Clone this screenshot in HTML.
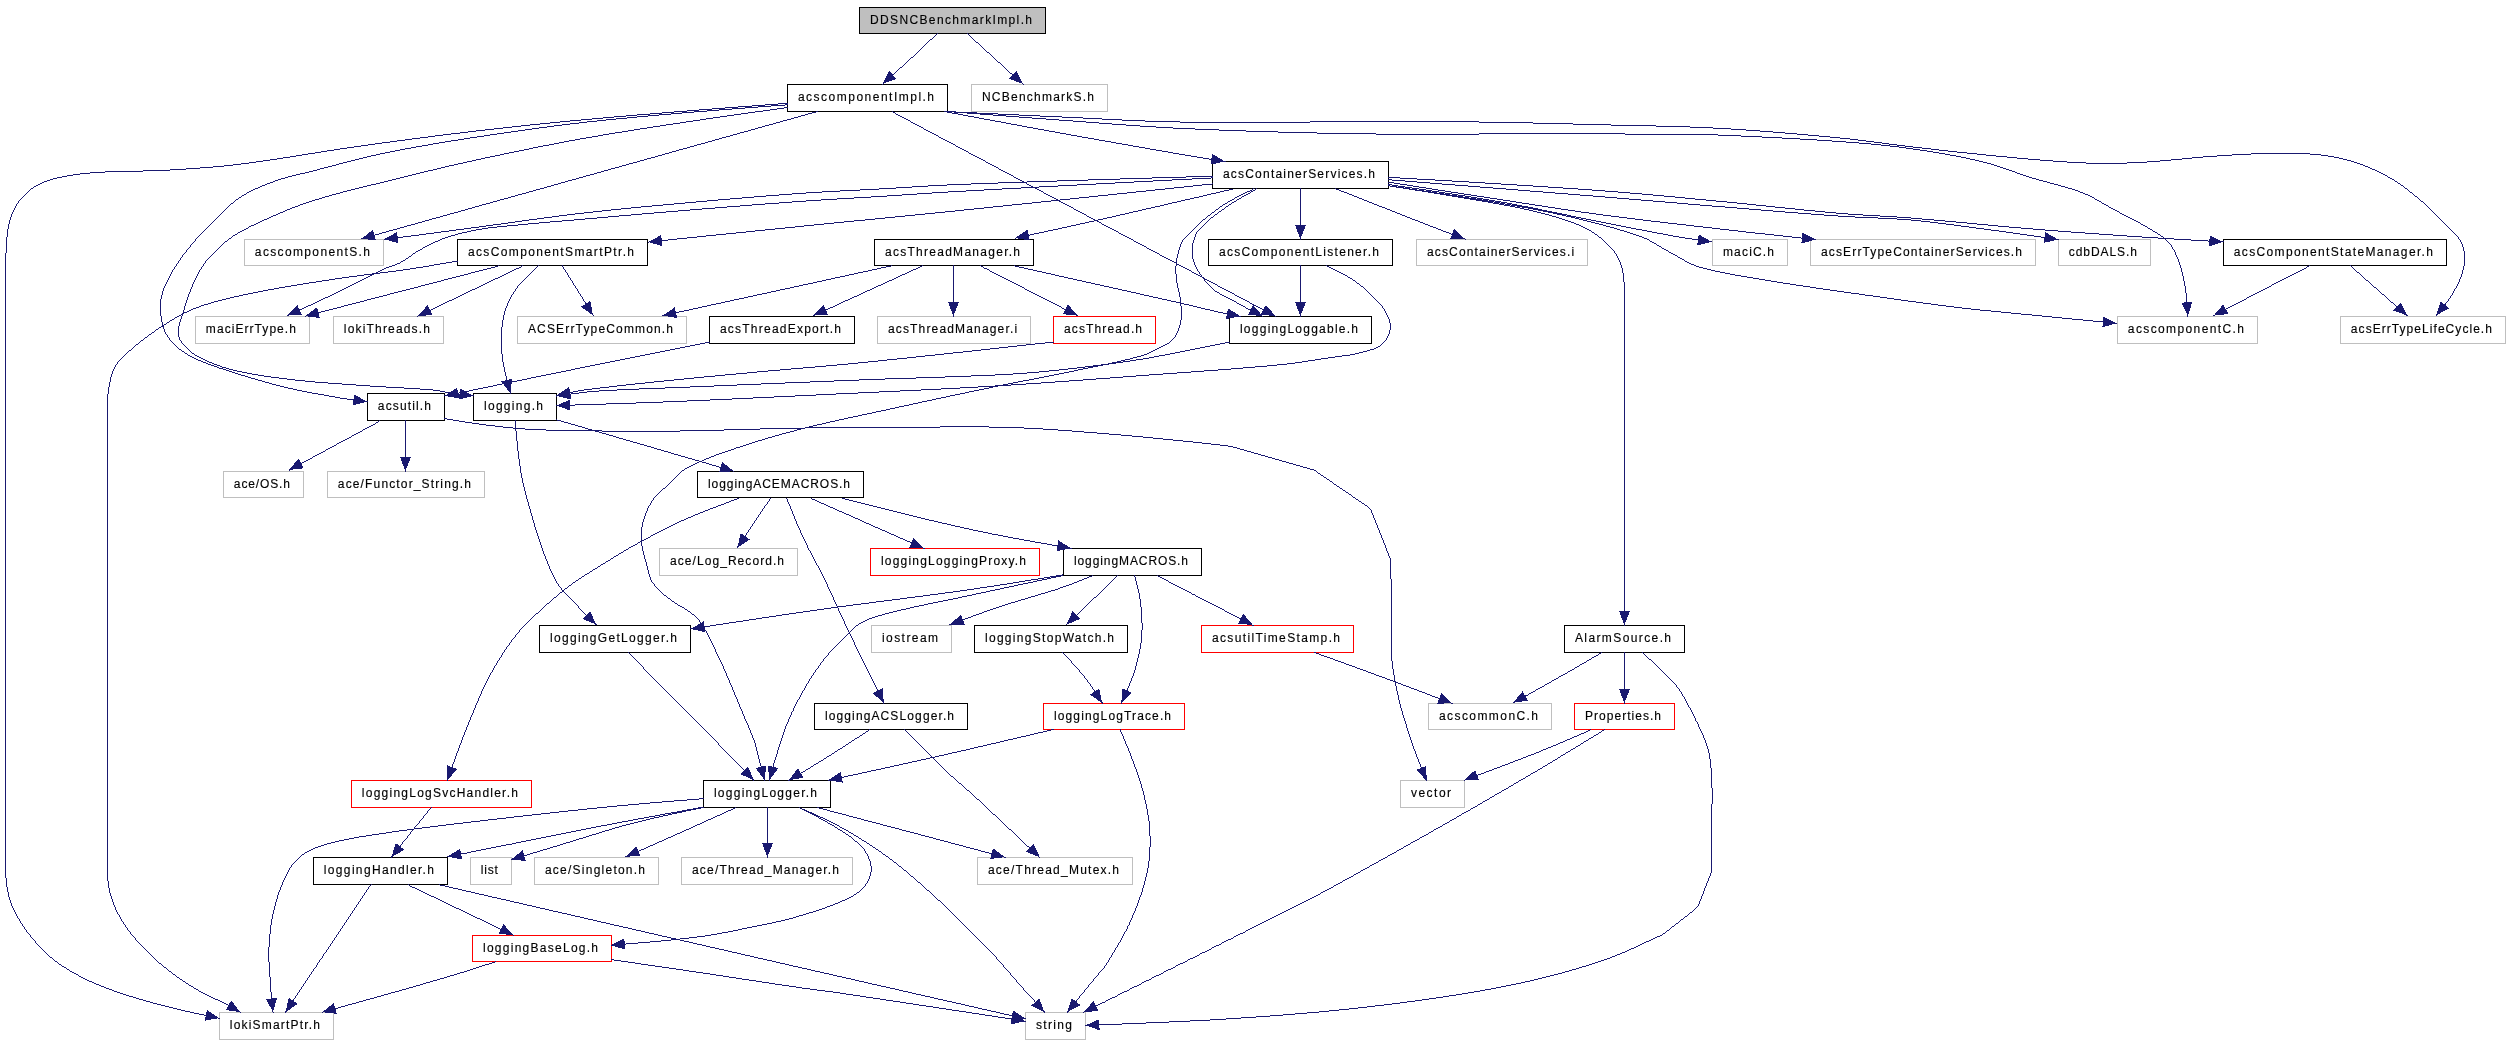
<!DOCTYPE html>
<html><head><meta charset="utf-8"><title>DDSNCBenchmarkImpl.h include graph</title>
<style>html,body{margin:0;padding:0;background:#fff;overflow:hidden}svg{display:block}text{font-family:"Liberation Sans",sans-serif;font-size:12px;fill:#000;stroke:#000;stroke-width:0.15px;text-anchor:middle}</style></head><body>
<svg width="2511" height="1045" viewBox="0 0 2511 1045">
<rect width="2511" height="1045" fill="#fff"/>
<g shape-rendering="crispEdges">
<rect x="859.5" y="7.5" width="186" height="26" fill="#bfbfbf" stroke="#000000"/>
<rect x="787.5" y="84.5" width="160" height="27" fill="#fff" stroke="#000000"/>
<rect x="971.5" y="84.5" width="136" height="27" fill="#fff" stroke="#bfbfbf"/>
<rect x="1212.5" y="161.5" width="176" height="27" fill="#fff" stroke="#000000"/>
<rect x="244.5" y="239.5" width="139" height="26" fill="#fff" stroke="#bfbfbf"/>
<rect x="457.5" y="239.5" width="190" height="26" fill="#fff" stroke="#000000"/>
<rect x="874.5" y="239.5" width="159" height="26" fill="#fff" stroke="#000000"/>
<rect x="1208.5" y="239.5" width="184" height="26" fill="#fff" stroke="#000000"/>
<rect x="1416.5" y="239.5" width="171" height="26" fill="#fff" stroke="#bfbfbf"/>
<rect x="1712.5" y="239.5" width="75" height="26" fill="#fff" stroke="#bfbfbf"/>
<rect x="1810.5" y="239.5" width="225" height="26" fill="#fff" stroke="#bfbfbf"/>
<rect x="2058.5" y="239.5" width="92" height="26" fill="#fff" stroke="#bfbfbf"/>
<rect x="2223.5" y="239.5" width="223" height="26" fill="#fff" stroke="#000000"/>
<rect x="195.5" y="316.5" width="114" height="27" fill="#fff" stroke="#bfbfbf"/>
<rect x="333.5" y="316.5" width="110" height="27" fill="#fff" stroke="#bfbfbf"/>
<rect x="517.5" y="316.5" width="169" height="27" fill="#fff" stroke="#bfbfbf"/>
<rect x="709.5" y="316.5" width="145" height="27" fill="#fff" stroke="#000000"/>
<rect x="877.5" y="316.5" width="153" height="27" fill="#fff" stroke="#bfbfbf"/>
<rect x="1053.5" y="316.5" width="102" height="27" fill="#fff" stroke="#ff0000"/>
<rect x="1229.5" y="316.5" width="142" height="27" fill="#fff" stroke="#000000"/>
<rect x="2117.5" y="316.5" width="140" height="27" fill="#fff" stroke="#bfbfbf"/>
<rect x="2340.5" y="316.5" width="165" height="27" fill="#fff" stroke="#bfbfbf"/>
<rect x="367.5" y="393.5" width="77" height="27" fill="#fff" stroke="#000000"/>
<rect x="473.5" y="393.5" width="83" height="27" fill="#fff" stroke="#000000"/>
<rect x="223.5" y="471.5" width="80" height="26" fill="#fff" stroke="#bfbfbf"/>
<rect x="327.5" y="471.5" width="157" height="26" fill="#fff" stroke="#bfbfbf"/>
<rect x="697.5" y="471.5" width="166" height="26" fill="#fff" stroke="#000000"/>
<rect x="659.5" y="548.5" width="138" height="27" fill="#fff" stroke="#bfbfbf"/>
<rect x="870.5" y="548.5" width="169" height="27" fill="#fff" stroke="#ff0000"/>
<rect x="1063.5" y="548.5" width="138" height="27" fill="#fff" stroke="#000000"/>
<rect x="539.5" y="625.5" width="151" height="27" fill="#fff" stroke="#000000"/>
<rect x="871.5" y="625.5" width="80" height="27" fill="#fff" stroke="#bfbfbf"/>
<rect x="974.5" y="625.5" width="153" height="27" fill="#fff" stroke="#000000"/>
<rect x="1201.5" y="625.5" width="152" height="27" fill="#fff" stroke="#ff0000"/>
<rect x="1564.5" y="625.5" width="120" height="27" fill="#fff" stroke="#000000"/>
<rect x="814.5" y="703.5" width="153" height="26" fill="#fff" stroke="#000000"/>
<rect x="1043.5" y="703.5" width="141" height="26" fill="#fff" stroke="#ff0000"/>
<rect x="1428.5" y="703.5" width="123" height="26" fill="#fff" stroke="#bfbfbf"/>
<rect x="1574.5" y="703.5" width="100" height="26" fill="#fff" stroke="#ff0000"/>
<rect x="351.5" y="780.5" width="180" height="27" fill="#fff" stroke="#ff0000"/>
<rect x="703.5" y="780.5" width="127" height="27" fill="#fff" stroke="#000000"/>
<rect x="1400.5" y="780.5" width="64" height="27" fill="#fff" stroke="#bfbfbf"/>
<rect x="313.5" y="857.5" width="134" height="27" fill="#fff" stroke="#000000"/>
<rect x="470.5" y="857.5" width="41" height="27" fill="#fff" stroke="#bfbfbf"/>
<rect x="534.5" y="857.5" width="124" height="27" fill="#fff" stroke="#bfbfbf"/>
<rect x="681.5" y="857.5" width="171" height="27" fill="#fff" stroke="#bfbfbf"/>
<rect x="977.5" y="857.5" width="155" height="27" fill="#fff" stroke="#bfbfbf"/>
<rect x="472.5" y="935.5" width="139" height="26" fill="#fff" stroke="#ff0000"/>
<rect x="219.5" y="1012.5" width="114" height="27" fill="#fff" stroke="#bfbfbf"/>
<rect x="1025.5" y="1012.5" width="60" height="27" fill="#fff" stroke="#bfbfbf"/>
</g>
<filter id="gs" x="0" y="0" width="100%" height="100%" filterUnits="userSpaceOnUse" color-interpolation-filters="sRGB"><feColorMatrix type="saturate" values="0"/></filter>
<g filter="url(#gs)">
<text x="951.0" y="23.5" textLength="162.1" lengthAdjust="spacing">DDSNCBenchmarkImpl.h</text>
<text x="866.0" y="101.0" textLength="136.1" lengthAdjust="spacing">acscomponentImpl.h</text>
<text x="1038.0" y="101.0" textLength="112.1" lengthAdjust="spacing">NCBenchmarkS.h</text>
<text x="1299.0" y="178.0" textLength="152.1" lengthAdjust="spacing">acsContainerServices.h</text>
<text x="312.4" y="255.5" textLength="115.1" lengthAdjust="spacing">acscomponentS.h</text>
<text x="551.0" y="255.5" textLength="166.1" lengthAdjust="spacing">acsComponentSmartPtr.h</text>
<text x="952.5" y="255.5" textLength="135.1" lengthAdjust="spacing">acsThreadManager.h</text>
<text x="1299.0" y="255.5" textLength="160.1" lengthAdjust="spacing">acsComponentListener.h</text>
<text x="1500.5" y="255.5" textLength="147.1" lengthAdjust="spacing">acsContainerServices.i</text>
<text x="1748.5" y="255.5" textLength="51.1" lengthAdjust="spacing">maciC.h</text>
<text x="1921.5" y="255.5" textLength="201.1" lengthAdjust="spacing">acsErrTypeContainerServices.h</text>
<text x="2102.9" y="255.5" textLength="68.1" lengthAdjust="spacing">cdbDALS.h</text>
<text x="2333.4" y="255.5" textLength="199.1" lengthAdjust="spacing">acsComponentStateManager.h</text>
<text x="250.9" y="333.0" textLength="90.1" lengthAdjust="spacing">maciErrType.h</text>
<text x="386.9" y="333.0" textLength="86.1" lengthAdjust="spacing">lokiThreads.h</text>
<text x="600.5" y="333.0" textLength="145.1" lengthAdjust="spacing">ACSErrTypeCommon.h</text>
<text x="780.5" y="333.0" textLength="121.1" lengthAdjust="spacing">acsThreadExport.h</text>
<text x="952.5" y="333.0" textLength="129.1" lengthAdjust="spacing">acsThreadManager.i</text>
<text x="1103.0" y="333.0" textLength="78.1" lengthAdjust="spacing">acsThread.h</text>
<text x="1299.0" y="333.0" textLength="118.1" lengthAdjust="spacing">loggingLoggable.h</text>
<text x="2185.9" y="333.0" textLength="116.1" lengthAdjust="spacing">acscomponentC.h</text>
<text x="2421.4" y="333.0" textLength="141.1" lengthAdjust="spacing">acsErrTypeLifeCycle.h</text>
<text x="404.4" y="410.0" textLength="53.1" lengthAdjust="spacing">acsutil.h</text>
<text x="513.5" y="410.0" textLength="59.1" lengthAdjust="spacing">logging.h</text>
<text x="261.9" y="487.5" textLength="56.1" lengthAdjust="spacing">ace/OS.h</text>
<text x="404.4" y="487.5" textLength="133.1" lengthAdjust="spacing">ace/Functor_String.h</text>
<text x="779.0" y="487.5" textLength="142.1" lengthAdjust="spacing">loggingACEMACROS.h</text>
<text x="727.0" y="565.0" textLength="114.1" lengthAdjust="spacing">ace/Log_Record.h</text>
<text x="953.5" y="565.0" textLength="145.1" lengthAdjust="spacing">loggingLoggingProxy.h</text>
<text x="1131.0" y="565.0" textLength="114.1" lengthAdjust="spacing">loggingMACROS.h</text>
<text x="613.5" y="642.0" textLength="127.1" lengthAdjust="spacing">loggingGetLogger.h</text>
<text x="910.0" y="642.0" textLength="56.1" lengthAdjust="spacing">iostream</text>
<text x="1049.5" y="642.0" textLength="129.1" lengthAdjust="spacing">loggingStopWatch.h</text>
<text x="1276.0" y="642.0" textLength="128.1" lengthAdjust="spacing">acsutilTimeStamp.h</text>
<text x="1623.0" y="642.0" textLength="96.1" lengthAdjust="spacing">AlarmSource.h</text>
<text x="889.5" y="719.5" textLength="129.1" lengthAdjust="spacing">loggingACSLogger.h</text>
<text x="1112.5" y="719.5" textLength="117.1" lengthAdjust="spacing">loggingLogTrace.h</text>
<text x="1488.5" y="719.5" textLength="99.1" lengthAdjust="spacing">acscommonC.h</text>
<text x="1623.0" y="719.5" textLength="76.1" lengthAdjust="spacing">Properties.h</text>
<text x="439.9" y="797.0" textLength="156.1" lengthAdjust="spacing">loggingLogSvcHandler.h</text>
<text x="765.5" y="797.0" textLength="103.1" lengthAdjust="spacing">loggingLogger.h</text>
<text x="1431.0" y="797.0" textLength="40.1" lengthAdjust="spacing">vector</text>
<text x="378.9" y="874.0" textLength="110.1" lengthAdjust="spacing">loggingHandler.h</text>
<text x="489.4" y="874.0" textLength="17.1" lengthAdjust="spacing">list</text>
<text x="595.0" y="874.0" textLength="100.1" lengthAdjust="spacing">ace/Singleton.h</text>
<text x="765.5" y="874.0" textLength="147.1" lengthAdjust="spacing">ace/Thread_Manager.h</text>
<text x="1053.5" y="874.0" textLength="131.1" lengthAdjust="spacing">ace/Thread_Mutex.h</text>
<text x="540.5" y="951.5" textLength="115.1" lengthAdjust="spacing">loggingBaseLog.h</text>
<text x="274.9" y="1029.0" textLength="90.1" lengthAdjust="spacing">lokiSmartPtr.h</text>
<text x="1054.0" y="1029.0" textLength="36.1" lengthAdjust="spacing">string</text>
</g>
<g fill="none" stroke="#191970" stroke-width="1" shape-rendering="crispEdges">
<path d="M930 39.5h2M976 42.5h2M987 52.5h2M911 57.5h2M998 62.5h2M900 67.5h2M1010 73.5h2M892 74.5h2M1020 82.5h2M778 103.5h10M765 104.5h13M785 104.5h3M752 105.5h13M771 105.5h14M738 106.5h14M758 106.5h13M725 107.5h13M745 107.5h13M784 107.5h4M712 108.5h13M732 108.5h13M777 108.5h7M699 109.5h13M719 109.5h13M770 109.5h7M687 110.5h12M707 110.5h12M763 110.5h7M674 111.5h13M694 111.5h13M755 111.5h8M816 111.5h2M944 111.5h12M662 112.5h12M682 112.5h12M748 112.5h7M812 112.5h4M893 112.5h2M947 112.5h5M954 112.5h23M650 113.5h12M671 113.5h11M741 113.5h7M808 113.5h4M952 113.5h6M967 113.5h31M637 114.5h13M659 114.5h12M734 114.5h7M805 114.5h3M896 114.5h2M958 114.5h5M980 114.5h13M998 114.5h21M626 115.5h11M648 115.5h11M727 115.5h7M801 115.5h4M898 115.5h2M963 115.5h5M993 115.5h13M1019 115.5h21M614 116.5h12M637 116.5h11M720 116.5h7M798 116.5h3M900 116.5h2M968 116.5h6M1006 116.5h13M1040 116.5h22M603 117.5h11M627 117.5h10M713 117.5h7M794 117.5h4M902 117.5h2M974 117.5h5M1019 117.5h13M1062 117.5h21M592 118.5h11M616 118.5h11M706 118.5h7M791 118.5h3M904 118.5h2M979 118.5h5M1032 118.5h14M1083 118.5h19M581 119.5h11M606 119.5h10M700 119.5h6M787 119.5h4M906 119.5h2M984 119.5h6M1046 119.5h13M1102 119.5h20M570 120.5h11M597 120.5h9M693 120.5h7M783 120.5h4M908 120.5h2M990 120.5h5M1059 120.5h14M1122 120.5h23M560 121.5h10M587 121.5h10M686 121.5h7M780 121.5h3M995 121.5h6M1073 121.5h13M1145 121.5h35M1310 121.5h169M550 122.5h10M579 122.5h8M680 122.5h6M776 122.5h4M911 122.5h2M1001 122.5h5M1086 122.5h13M1180 122.5h130M1479 122.5h54M540 123.5h10M570 123.5h9M673 123.5h7M773 123.5h3M913 123.5h2M1006 123.5h5M1099 123.5h13M1533 123.5h40M530 124.5h10M562 124.5h8M666 124.5h7M769 124.5h4M915 124.5h2M1011 124.5h6M1112 124.5h14M1573 124.5h38M521 125.5h9M554 125.5h8M660 125.5h6M765 125.5h4M917 125.5h2M1017 125.5h5M1126 125.5h14M1611 125.5h45M512 126.5h9M547 126.5h7M653 126.5h7M762 126.5h3M919 126.5h2M1022 126.5h5M1140 126.5h16M1656 126.5h34M503 127.5h9M539 127.5h8M647 127.5h6M758 127.5h4M921 127.5h2M1027 127.5h6M1156 127.5h17M1690 127.5h23M494 128.5h9M532 128.5h7M640 128.5h7M755 128.5h3M1033 128.5h5M1173 128.5h22M1713 128.5h18M485 129.5h9M525 129.5h7M634 129.5h6M751 129.5h4M924 129.5h2M1038 129.5h6M1195 129.5h24M1731 129.5h15M476 130.5h9M518 130.5h7M628 130.5h6M748 130.5h3M926 130.5h2M1044 130.5h5M1219 130.5h27M1746 130.5h14M468 131.5h8M511 131.5h7M622 131.5h6M744 131.5h4M928 131.5h2M1049 131.5h6M1246 131.5h32M1760 131.5h13M460 132.5h8M504 132.5h7M615 132.5h7M740 132.5h4M930 132.5h2M1055 132.5h5M1278 132.5h39M1773 132.5h12M451 133.5h9M497 133.5h7M609 133.5h6M737 133.5h3M932 133.5h2M1060 133.5h6M1317 133.5h59M1479 133.5h146M1785 133.5h12M443 134.5h8M490 134.5h7M603 134.5h6M733 134.5h4M934 134.5h2M1066 134.5h5M1376 134.5h103M1625 134.5h93M1797 134.5h11M435 135.5h8M484 135.5h6M598 135.5h5M730 135.5h3M936 135.5h2M1071 135.5h6M1718 135.5h23M1808 135.5h11M428 136.5h7M477 136.5h7M592 136.5h6M726 136.5h4M1077 136.5h5M1741 136.5h21M1819 136.5h11M420 137.5h8M470 137.5h7M586 137.5h6M722 137.5h4M939 137.5h2M1082 137.5h6M1762 137.5h20M1830 137.5h10M412 138.5h8M464 138.5h6M580 138.5h6M719 138.5h3M941 138.5h2M1088 138.5h6M1782 138.5h18M1840 138.5h10M405 139.5h7M458 139.5h6M575 139.5h5M715 139.5h4M943 139.5h2M1094 139.5h5M1800 139.5h17M1850 139.5h8M397 140.5h8M451 140.5h7M569 140.5h6M712 140.5h3M945 140.5h2M1099 140.5h6M1817 140.5h15M1858 140.5h8M390 141.5h7M445 141.5h6M564 141.5h5M708 141.5h4M947 141.5h2M1105 141.5h6M1832 141.5h14M1866 141.5h8M382 142.5h8M439 142.5h6M559 142.5h5M705 142.5h3M949 142.5h2M1111 142.5h5M1846 142.5h13M1874 142.5h8M375 143.5h7M433 143.5h6M554 143.5h5M701 143.5h4M951 143.5h2M1116 143.5h6M1859 143.5h12M1882 143.5h7M368 144.5h7M428 144.5h5M549 144.5h5M697 144.5h4M953 144.5h2M1122 144.5h6M1871 144.5h10M1889 144.5h8M361 145.5h7M422 145.5h6M543 145.5h6M694 145.5h3M1128 145.5h5M1881 145.5h9M1897 145.5h8M354 146.5h7M416 146.5h6M538 146.5h5M690 146.5h4M956 146.5h2M1133 146.5h6M1890 146.5h9M1905 146.5h8M347 147.5h7M411 147.5h5M533 147.5h5M687 147.5h3M958 147.5h2M1139 147.5h6M1899 147.5h7M1913 147.5h9M340 148.5h7M405 148.5h6M529 148.5h4M683 148.5h4M960 148.5h2M1145 148.5h5M1906 148.5h7M1922 148.5h9M334 149.5h6M400 149.5h5M524 149.5h5M679 149.5h4M962 149.5h2M1150 149.5h6M1913 149.5h7M1931 149.5h8M327 150.5h7M395 150.5h5M519 150.5h5M676 150.5h3M964 150.5h2M1156 150.5h6M1920 150.5h7M1939 150.5h9M321 151.5h6M390 151.5h5M514 151.5h5M672 151.5h4M966 151.5h2M1162 151.5h6M1927 151.5h6M1948 151.5h9M315 152.5h6M385 152.5h5M509 152.5h5M669 152.5h3M1168 152.5h5M1933 152.5h6M1957 152.5h10M308 153.5h7M380 153.5h5M504 153.5h5M665 153.5h4M969 153.5h2M1173 153.5h6M1939 153.5h6M1967 153.5h10M2251 153.5h59M302 154.5h6M376 154.5h4M500 154.5h4M662 154.5h3M971 154.5h2M1179 154.5h6M1945 154.5h5M1977 154.5h9M2232 154.5h19M2310 154.5h11M296 155.5h6M371 155.5h5M495 155.5h5M658 155.5h4M973 155.5h2M1185 155.5h6M1950 155.5h6M1986 155.5h10M2217 155.5h15M2321 155.5h7M290 156.5h6M367 156.5h4M490 156.5h5M655 156.5h3M975 156.5h2M1191 156.5h6M1956 156.5h5M1996 156.5h11M2203 156.5h14M2328 156.5h6M283 157.5h7M363 157.5h4M485 157.5h5M651 157.5h4M977 157.5h2M1197 157.5h6M1961 157.5h5M2007 157.5h10M2192 157.5h11M2334 157.5h5M277 158.5h6M359 158.5h4M481 158.5h4M647 158.5h4M979 158.5h2M1203 158.5h6M1966 158.5h4M2017 158.5h11M2182 158.5h10M2339 158.5h4M270 159.5h7M355 159.5h4M476 159.5h5M644 159.5h3M981 159.5h2M1209 159.5h7M1970 159.5h5M2028 159.5h12M2171 159.5h11M2343 159.5h4M263 160.5h7M351 160.5h4M472 160.5h4M640 160.5h4M983 160.5h2M1216 160.5h6M1975 160.5h4M2040 160.5h13M2160 160.5h11M2347 160.5h4M256 161.5h7M347 161.5h4M467 161.5h5M637 161.5h3M1222 161.5h4M1979 161.5h4M2053 161.5h14M2147 161.5h13M2351 161.5h3M249 162.5h7M343 162.5h4M463 162.5h4M633 162.5h4M986 162.5h2M1983 162.5h4M2067 162.5h19M2127 162.5h20M2354 162.5h3M241 163.5h8M339 163.5h4M458 163.5h5M629 163.5h4M988 163.5h2M1987 163.5h4M2086 163.5h41M2357 163.5h3M233 164.5h8M336 164.5h3M454 164.5h4M626 164.5h3M990 164.5h2M1991 164.5h3M2360 164.5h3M224 165.5h9M332 165.5h4M449 165.5h5M622 165.5h4M992 165.5h2M1994 165.5h3M2363 165.5h2M213 166.5h11M328 166.5h4M445 166.5h4M619 166.5h3M994 166.5h2M1997 166.5h3M2365 166.5h3M200 167.5h13M324 167.5h4M441 167.5h4M615 167.5h4M996 167.5h2M2000 167.5h3M2368 167.5h2M186 168.5h14M320 168.5h4M437 168.5h4M611 168.5h4M2003 168.5h3M2370 168.5h2M170 169.5h16M317 169.5h3M433 169.5h4M608 169.5h3M999 169.5h2M2006 169.5h3M2372 169.5h3M143 170.5h27M313 170.5h4M428 170.5h5M604 170.5h4M1001 170.5h2M2009 170.5h3M2375 170.5h2M105 171.5h38M309 171.5h4M424 171.5h4M601 171.5h3M1003 171.5h2M2012 171.5h3M2377 171.5h2M90 172.5h15M305 172.5h4M420 172.5h4M597 172.5h4M1005 172.5h2M2015 172.5h2M2379 172.5h2M80 173.5h10M300 173.5h5M416 173.5h4M594 173.5h3M1007 173.5h2M2017 173.5h3M2381 173.5h2M73 174.5h7M296 174.5h4M412 174.5h4M590 174.5h4M1009 174.5h2M2020 174.5h3M2383 174.5h2M67 175.5h6M292 175.5h4M408 175.5h4M586 175.5h4M1011 175.5h2M2023 175.5h3M2385 175.5h2M62 176.5h5M288 176.5h4M404 176.5h4M583 176.5h3M1186 176.5h27M2026 176.5h3M57 177.5h5M285 177.5h3M400 177.5h4M579 177.5h4M1014 177.5h2M1152 177.5h34M1211 177.5h2M1388 177.5h12M2029 177.5h3M2388 177.5h2M53 178.5h4M281 178.5h4M396 178.5h4M576 178.5h3M1016 178.5h2M1120 178.5h32M1192 178.5h19M1400 178.5h17M2032 178.5h4M2390 178.5h2M50 179.5h3M278 179.5h3M392 179.5h4M572 179.5h4M1018 179.5h2M1088 179.5h32M1172 179.5h20M1388 179.5h4M1417 179.5h18M2036 179.5h3M2392 179.5h2M47 180.5h3M275 180.5h3M388 180.5h4M568 180.5h4M1020 180.5h2M1057 180.5h31M1153 180.5h19M1392 180.5h13M1435 180.5h17M2039 180.5h4M44 181.5h3M273 181.5h2M384 181.5h4M565 181.5h3M1022 181.5h2M1027 181.5h30M1134 181.5h19M1405 181.5h12M1452 181.5h17M2043 181.5h4M2395 181.5h2M42 182.5h2M270 182.5h3M380 182.5h4M561 182.5h4M998 182.5h29M1115 182.5h19M1388 182.5h6M1417 182.5h13M1469 182.5h16M2047 182.5h3M40 183.5h2M267 183.5h3M376 183.5h4M558 183.5h3M971 183.5h27M1096 183.5h19M1394 183.5h6M1430 183.5h12M1485 183.5h16M2050 183.5h4M2398 183.5h2M38 184.5h2M265 184.5h2M371 184.5h5M554 184.5h4M947 184.5h24M1027 184.5h2M1077 184.5h19M1202 184.5h10M1388 184.5h4M1400 184.5h7M1442 184.5h13M1501 184.5h16M2054 184.5h4M36 185.5h2M262 185.5h3M367 185.5h4M551 185.5h3M928 185.5h19M1029 185.5h2M1058 185.5h19M1193 185.5h9M1388 185.5h2M1392 185.5h6M1407 185.5h6M1455 185.5h13M1517 185.5h16M2058 185.5h3M2401 185.5h2M34 186.5h2M260 186.5h2M363 186.5h4M547 186.5h4M912 186.5h16M1031 186.5h2M1039 186.5h19M1184 186.5h9M1390 186.5h7M1398 186.5h7M1413 186.5h6M1468 186.5h12M1533 186.5h15M2061 186.5h4M258 187.5h2M359 187.5h4M544 187.5h3M896 187.5h16M1021 187.5h18M1174 187.5h10M1396 187.5h8M1405 187.5h7M1419 187.5h7M1480 187.5h13M1548 187.5h15M2065 187.5h3M31 188.5h2M255 188.5h3M355 188.5h4M540 188.5h4M879 188.5h17M1002 188.5h19M1035 188.5h2M1165 188.5h9M1403 188.5h7M1412 188.5h7M1426 188.5h6M1493 188.5h13M1563 188.5h15M2068 188.5h4M2405 188.5h2M253 189.5h2M351 189.5h4M536 189.5h4M860 189.5h19M984 189.5h18M1037 189.5h2M1155 189.5h10M1229 189.5h4M1336 189.5h3M1409 189.5h8M1419 189.5h7M1432 189.5h6M1506 189.5h12M1578 189.5h14M2072 189.5h3M251 190.5h2M347 190.5h4M533 190.5h3M840 190.5h20M966 190.5h18M1039 190.5h2M1146 190.5h9M1224 190.5h5M1250 190.5h2M1253 190.5h2M1339 190.5h2M1415 190.5h9M1426 190.5h6M1438 190.5h7M1518 190.5h12M1592 190.5h13M2075 190.5h3M249 191.5h2M343 191.5h4M529 191.5h4M822 191.5h18M948 191.5h18M1041 191.5h2M1136 191.5h10M1220 191.5h4M1247 191.5h3M1251 191.5h2M1341 191.5h3M1422 191.5h9M1432 191.5h7M1445 191.5h6M1530 191.5h13M1605 191.5h13M2078 191.5h2M247 192.5h2M340 192.5h3M526 192.5h3M806 192.5h16M932 192.5h16M1127 192.5h9M1216 192.5h4M1245 192.5h2M1344 192.5h3M1428 192.5h9M1439 192.5h6M1451 192.5h7M1543 192.5h12M1618 192.5h12M2080 192.5h3M2410 192.5h2M336 193.5h4M522 193.5h4M792 193.5h14M917 193.5h15M1044 193.5h2M1117 193.5h10M1211 193.5h5M1243 193.5h2M1248 193.5h2M1347 193.5h2M1434 193.5h10M1445 193.5h7M1458 193.5h6M1555 193.5h13M1630 193.5h12M2083 193.5h2M244 194.5h2M332 194.5h4M518 194.5h4M779 194.5h13M902 194.5h15M1046 194.5h2M1108 194.5h9M1207 194.5h4M1241 194.5h2M1246 194.5h2M1349 194.5h3M1440 194.5h10M1452 194.5h6M1464 194.5h7M1568 194.5h12M1642 194.5h11M2085 194.5h3M242 195.5h2M329 195.5h3M515 195.5h3M766 195.5h13M887 195.5h15M1048 195.5h2M1098 195.5h10M1203 195.5h4M1239 195.5h2M1244 195.5h2M1352 195.5h2M1446 195.5h11M1458 195.5h7M1471 195.5h6M1580 195.5h13M1653 195.5h11M2088 195.5h2M325 196.5h4M511 196.5h4M754 196.5h12M871 196.5h16M1050 196.5h2M1089 196.5h9M1199 196.5h4M1237 196.5h2M1242 196.5h2M1354 196.5h3M1452 196.5h11M1465 196.5h6M1477 196.5h7M1593 196.5h12M1664 196.5h11M2090 196.5h2M2415 196.5h2M239 197.5h2M322 197.5h3M508 197.5h3M742 197.5h12M854 197.5h17M1052 197.5h2M1079 197.5h10M1194 197.5h5M1235 197.5h2M1357 197.5h2M1458 197.5h11M1471 197.5h6M1484 197.5h6M1605 197.5h12M1675 197.5h10M2092 197.5h2M319 198.5h3M504 198.5h4M730 198.5h12M837 198.5h17M1054 198.5h2M1070 198.5h9M1190 198.5h4M1239 198.5h2M1359 198.5h3M1464 198.5h12M1477 198.5h6M1490 198.5h7M1617 198.5h12M1685 198.5h10M236 199.5h2M315 199.5h4M500 199.5h4M718 199.5h12M821 199.5h16M1056 199.5h2M1060 199.5h10M1185 199.5h5M1232 199.5h2M1237 199.5h2M1362 199.5h2M1470 199.5h12M1483 199.5h6M1497 199.5h6M1629 199.5h12M1695 199.5h11M2095 199.5h2M312 200.5h3M497 200.5h3M707 200.5h11M806 200.5h15M1051 200.5h9M1181 200.5h4M1230 200.5h2M1364 200.5h3M1476 200.5h12M1489 200.5h6M1503 200.5h7M1641 200.5h12M1706 200.5h10M2097 200.5h2M309 201.5h3M493 201.5h4M696 201.5h11M792 201.5h14M1041 201.5h10M1059 201.5h2M1177 201.5h4M1228 201.5h2M1234 201.5h2M1367 201.5h2M1482 201.5h12M1495 201.5h6M1510 201.5h6M1653 201.5h12M1716 201.5h11M2099 201.5h2M2421 201.5h2M306 202.5h3M490 202.5h3M685 202.5h11M779 202.5h13M1032 202.5h9M1061 202.5h2M1172 202.5h5M1232 202.5h2M1369 202.5h3M1488 202.5h5M1494 202.5h6M1501 202.5h6M1516 202.5h6M1665 202.5h12M1727 202.5h10M231 203.5h2M303 203.5h3M486 203.5h4M674 203.5h11M765 203.5h14M1022 203.5h10M1063 203.5h2M1168 203.5h4M1225 203.5h2M1372 203.5h2M1493 203.5h6M1500 203.5h5M1507 203.5h5M1522 203.5h7M1677 203.5h11M1737 203.5h10M2102 203.5h2M300 204.5h3M482 204.5h4M663 204.5h11M752 204.5h13M1012 204.5h10M1065 204.5h2M1164 204.5h4M1223 204.5h2M1229 204.5h2M1374 204.5h3M1499 204.5h5M1505 204.5h6M1512 204.5h5M1529 204.5h6M1688 204.5h12M1747 204.5h9M2104 204.5h2M298 205.5h2M479 205.5h3M652 205.5h11M740 205.5h12M1003 205.5h9M1067 205.5h2M1160 205.5h4M1377 205.5h2M1504 205.5h6M1511 205.5h11M1535 205.5h7M1700 205.5h12M1756 205.5h10M2106 205.5h2M295 206.5h3M475 206.5h4M641 206.5h11M727 206.5h13M993 206.5h10M1069 206.5h2M1155 206.5h5M1220 206.5h2M1226 206.5h2M1379 206.5h3M1510 206.5h5M1517 206.5h11M1542 206.5h6M1712 206.5h13M1766 206.5h9M292 207.5h3M472 207.5h3M631 207.5h10M715 207.5h12M984 207.5h9M1071 207.5h2M1151 207.5h4M1382 207.5h3M1515 207.5h5M1522 207.5h11M1548 207.5h7M1725 207.5h12M1775 207.5h10M2109 207.5h2M290 208.5h2M468 208.5h4M621 208.5h10M702 208.5h13M974 208.5h10M1146 208.5h5M1385 208.5h2M1520 208.5h4M1528 208.5h10M1555 208.5h6M1737 208.5h12M1785 208.5h10M2111 208.5h2M287 209.5h3M465 209.5h3M611 209.5h10M690 209.5h12M964 209.5h10M1074 209.5h2M1142 209.5h4M1216 209.5h2M1222 209.5h2M1387 209.5h3M1524 209.5h5M1533 209.5h9M1561 209.5h7M1749 209.5h12M1795 209.5h9M2113 209.5h2M285 210.5h2M461 210.5h4M602 210.5h9M678 210.5h12M955 210.5h9M1076 210.5h2M1138 210.5h4M1390 210.5h2M1529 210.5h4M1538 210.5h9M1568 210.5h7M1761 210.5h12M1804 210.5h11M2115 210.5h2M283 211.5h2M458 211.5h3M593 211.5h9M666 211.5h12M945 211.5h10M1078 211.5h2M1133 211.5h5M1219 211.5h2M1392 211.5h3M1533 211.5h4M1543 211.5h9M1575 211.5h6M1773 211.5h12M1815 211.5h10M2117 211.5h2M280 212.5h3M454 212.5h4M584 212.5h9M654 212.5h12M935 212.5h10M1080 212.5h2M1129 212.5h4M1212 212.5h2M1395 212.5h2M1537 212.5h4M1548 212.5h9M1581 212.5h8M1785 212.5h13M1825 212.5h11M278 213.5h2M450 213.5h4M575 213.5h9M642 213.5h12M925 213.5h10M1082 213.5h2M1125 213.5h4M1397 213.5h3M1541 213.5h4M1553 213.5h9M1589 213.5h7M1798 213.5h13M1836 213.5h12M2120 213.5h2M276 214.5h2M447 214.5h3M567 214.5h8M631 214.5h11M915 214.5h10M1084 214.5h2M1120 214.5h5M1215 214.5h2M1400 214.5h2M1545 214.5h4M1557 214.5h10M1596 214.5h7M1811 214.5h13M1848 214.5h15M2122 214.5h2M273 215.5h3M443 215.5h4M559 215.5h8M619 215.5h12M905 215.5h10M1116 215.5h4M1208 215.5h2M1402 215.5h3M1549 215.5h3M1562 215.5h4M1567 215.5h4M1603 215.5h8M1824 215.5h14M1863 215.5h17M2124 215.5h2M271 216.5h2M440 216.5h3M552 216.5h7M608 216.5h11M895 216.5h10M1087 216.5h2M1112 216.5h4M1405 216.5h2M1552 216.5h4M1566 216.5h10M1611 216.5h8M1838 216.5h17M1880 216.5h17M2126 216.5h2M269 217.5h2M436 217.5h4M544 217.5h8M597 217.5h11M885 217.5h10M1089 217.5h2M1107 217.5h5M1211 217.5h2M1407 217.5h3M1556 217.5h3M1571 217.5h4M1576 217.5h5M1619 217.5h8M1855 217.5h23M1897 217.5h14M2128 217.5h2M267 218.5h2M432 218.5h4M537 218.5h7M585 218.5h12M875 218.5h10M1091 218.5h2M1103 218.5h4M1410 218.5h2M1559 218.5h3M1575 218.5h4M1581 218.5h5M1627 218.5h8M1878 218.5h19M1911 218.5h11M2130 218.5h2M264 219.5h3M429 219.5h3M529 219.5h8M574 219.5h11M865 219.5h10M1093 219.5h2M1098 219.5h5M1203 219.5h2M1412 219.5h3M1562 219.5h3M1579 219.5h4M1586 219.5h5M1635 219.5h8M1897 219.5h14M1922 219.5h12M2132 219.5h2M262 220.5h2M425 220.5h4M522 220.5h7M562 220.5h12M854 220.5h11M1094 220.5h4M1415 220.5h3M1565 220.5h3M1583 220.5h4M1591 220.5h5M1643 220.5h8M1911 220.5h10M1934 220.5h11M2134 220.5h2M260 221.5h2M422 221.5h3M515 221.5h7M550 221.5h12M844 221.5h10M1089 221.5h5M1097 221.5h2M1418 221.5h2M1568 221.5h3M1587 221.5h4M1596 221.5h5M1651 221.5h9M1921 221.5h9M1945 221.5h11M2136 221.5h2M258 222.5h2M418 222.5h4M508 222.5h7M539 222.5h11M834 222.5h10M1085 222.5h4M1099 222.5h2M1420 222.5h3M1571 222.5h3M1591 222.5h4M1601 222.5h5M1660 222.5h8M1930 222.5h8M1956 222.5h11M2138 222.5h2M256 223.5h2M415 223.5h3M501 223.5h7M528 223.5h11M824 223.5h10M1080 223.5h5M1423 223.5h2M1574 223.5h2M1595 223.5h4M1606 223.5h5M1668 223.5h9M1938 223.5h8M1967 223.5h10M254 224.5h2M411 224.5h4M493 224.5h8M518 224.5h10M814 224.5h10M1076 224.5h4M1102 224.5h2M1425 224.5h3M1576 224.5h3M1599 224.5h4M1611 224.5h5M1677 224.5h9M1946 224.5h8M1977 224.5h11M2141 224.5h2M251 225.5h3M407 225.5h4M486 225.5h7M507 225.5h11M804 225.5h10M1071 225.5h5M1104 225.5h2M1428 225.5h2M1579 225.5h2M1603 225.5h3M1616 225.5h5M1686 225.5h8M1954 225.5h7M1988 225.5h10M2143 225.5h2M249 226.5h2M404 226.5h3M479 226.5h7M497 226.5h10M795 226.5h9M1067 226.5h4M1106 226.5h2M1430 226.5h3M1581 226.5h2M1606 226.5h4M1621 226.5h5M1694 226.5h9M1961 226.5h8M1998 226.5h11M2145 226.5h2M400 227.5h4M471 227.5h8M488 227.5h9M785 227.5h10M1062 227.5h5M1108 227.5h2M1433 227.5h3M1583 227.5h2M1610 227.5h4M1626 227.5h5M1703 227.5h9M1969 227.5h7M2009 227.5h12M246 228.5h2M397 228.5h3M464 228.5h7M482 228.5h6M775 228.5h10M1058 228.5h4M1110 228.5h2M1436 228.5h2M1585 228.5h2M1614 228.5h3M1631 228.5h5M1712 228.5h8M1976 228.5h8M2021 228.5h12M2148 228.5h2M244 229.5h2M393 229.5h4M456 229.5h8M476 229.5h6M765 229.5h10M1053 229.5h5M1112 229.5h2M1438 229.5h3M1587 229.5h2M1617 229.5h3M1636 229.5h6M1720 229.5h9M1984 229.5h7M2033 229.5h12M2150 229.5h2M242 230.5h2M389 230.5h4M449 230.5h7M471 230.5h5M755 230.5h10M1048 230.5h5M1114 230.5h2M1441 230.5h2M1589 230.5h2M1620 230.5h4M1642 230.5h5M1729 230.5h9M1991 230.5h8M2045 230.5h13M240 231.5h2M386 231.5h3M441 231.5h8M467 231.5h4M746 231.5h9M1044 231.5h4M1116 231.5h2M1443 231.5h3M1624 231.5h3M1647 231.5h5M1738 231.5h8M1999 231.5h7M2058 231.5h13M2153 231.5h2M238 232.5h2M382 232.5h4M434 232.5h7M462 232.5h5M736 232.5h10M1039 232.5h5M1446 232.5h3M1592 232.5h2M1627 232.5h3M1652 232.5h5M1746 232.5h9M2006 232.5h7M2071 232.5h14M2155 232.5h2M379 233.5h3M426 233.5h8M458 233.5h4M726 233.5h10M1034 233.5h5M1119 233.5h2M1449 233.5h2M1630 233.5h3M1657 233.5h6M1755 233.5h10M2013 233.5h7M2085 233.5h14M235 234.5h2M375 234.5h4M419 234.5h7M455 234.5h3M716 234.5h10M1030 234.5h4M1121 234.5h2M1451 234.5h3M1595 234.5h2M1633 234.5h3M1663 234.5h5M1765 234.5h9M2020 234.5h7M2099 234.5h14M2158 234.5h2M233 235.5h2M372 235.5h3M411 235.5h8M451 235.5h4M706 235.5h10M1025 235.5h5M1123 235.5h2M1454 235.5h3M1636 235.5h3M1668 235.5h5M1774 235.5h9M2027 235.5h7M2113 235.5h14M368 236.5h4M403 236.5h8M448 236.5h3M697 236.5h9M1020 236.5h5M1125 236.5h2M1457 236.5h2M1639 236.5h3M1673 236.5h6M1783 236.5h9M2034 236.5h7M2127 236.5h15M2161 236.5h2M364 237.5h4M395 237.5h8M445 237.5h3M687 237.5h10M1016 237.5h4M1127 237.5h2M1459 237.5h3M1599 237.5h2M1642 237.5h2M1679 237.5h6M1792 237.5h9M2041 237.5h6M2142 237.5h16M229 238.5h2M361 238.5h3M387 238.5h8M442 238.5h3M677 238.5h10M1129 238.5h2M1462 238.5h3M1644 238.5h3M1685 238.5h7M1801 238.5h10M2047 238.5h7M2158 238.5h16M384 239.5h3M440 239.5h2M668 239.5h9M1131 239.5h2M1647 239.5h2M1692 239.5h7M1811 239.5h5M2054 239.5h5M2174 239.5h17M438 240.5h2M658 240.5h10M1699 240.5h6M2191 240.5h17M225 241.5h2M435 241.5h3M649 241.5h9M1134 241.5h2M1650 241.5h2M1705 241.5h7M2208 241.5h16M433 242.5h2M1136 242.5h2M1652 242.5h2M431 243.5h2M1138 243.5h2M1654 243.5h2M429 244.5h2M1140 244.5h2M427 245.5h2M1142 245.5h2M1657 245.5h2M425 246.5h2M1144 246.5h2M1659 246.5h2M423 247.5h2M1147 248.5h2M1662 248.5h2M420 249.5h2M1149 249.5h2M1664 249.5h2M418 250.5h2M1151 250.5h2M1666 250.5h2M416 251.5h2M1153 251.5h2M1155 252.5h2M1669 252.5h2M413 253.5h2M1157 253.5h2M1671 253.5h2M1673 254.5h2M1160 255.5h2M1675 255.5h2M409 256.5h2M1162 256.5h2M1164 257.5h2M1678 257.5h2M406 258.5h2M1166 258.5h2M1680 258.5h2M1168 259.5h2M1682 259.5h2M403 260.5h2M1170 260.5h2M401 261.5h2M452 261.5h6M1172 261.5h2M1685 261.5h2M446 262.5h6M1174 262.5h3M1687 262.5h2M397 263.5h3M440 263.5h6M1689 263.5h2M395 264.5h2M434 264.5h6M1176 264.5h3M1691 264.5h3M392 265.5h3M429 265.5h5M1179 265.5h2M1694 265.5h2M389 266.5h3M423 266.5h6M495 266.5h3M886 266.5h5M920 266.5h2M981 266.5h2M1015 266.5h4M1181 266.5h2M1327 266.5h2M1696 266.5h3M2307 266.5h2M386 267.5h3M416 267.5h7M491 267.5h4M519 267.5h2M881 267.5h5M918 267.5h2M1019 267.5h5M1183 267.5h2M1329 267.5h2M1699 267.5h4M384 268.5h2M410 268.5h6M487 268.5h4M516 268.5h3M877 268.5h4M916 268.5h2M984 268.5h3M1024 268.5h4M1185 268.5h2M1331 268.5h2M1703 268.5h4M2304 268.5h2M382 269.5h2M403 269.5h7M483 269.5h4M514 269.5h2M872 269.5h5M913 269.5h3M987 269.5h2M1028 269.5h5M1187 269.5h2M1333 269.5h2M1707 269.5h4M2302 269.5h2M380 270.5h2M396 270.5h7M479 270.5h4M512 270.5h2M868 270.5h4M911 270.5h2M1033 270.5h4M1189 270.5h2M1335 270.5h2M1711 270.5h4M2300 270.5h2M378 271.5h2M388 271.5h8M475 271.5h4M510 271.5h2M863 271.5h5M909 271.5h2M990 271.5h2M1037 271.5h5M1337 271.5h2M1715 271.5h5M2298 271.5h2M376 272.5h2M380 272.5h8M471 272.5h4M508 272.5h2M858 272.5h5M907 272.5h2M992 272.5h2M1042 272.5h4M1192 272.5h2M1339 272.5h2M1720 272.5h5M2296 272.5h2M2357 272.5h2M372 273.5h8M468 273.5h3M506 273.5h2M854 273.5h4M905 273.5h2M994 273.5h2M1046 273.5h5M1194 273.5h2M1341 273.5h2M1725 273.5h5M2294 273.5h2M364 274.5h10M464 274.5h4M504 274.5h2M849 274.5h5M902 274.5h3M996 274.5h2M1051 274.5h4M1196 274.5h2M1343 274.5h2M1730 274.5h5M2292 274.5h2M357 275.5h7M370 275.5h2M460 275.5h4M502 275.5h2M845 275.5h4M900 275.5h2M998 275.5h2M1055 275.5h4M1198 275.5h2M1345 275.5h2M1735 275.5h6M2290 275.5h2M349 276.5h8M368 276.5h2M456 276.5h4M500 276.5h2M840 276.5h5M898 276.5h2M1000 276.5h2M1059 276.5h5M1200 276.5h2M1741 276.5h6M2288 276.5h2M342 277.5h7M366 277.5h2M452 277.5h4M498 277.5h2M835 277.5h5M896 277.5h2M1002 277.5h2M1064 277.5h4M1202 277.5h2M1348 277.5h2M1747 277.5h6M2286 277.5h2M335 278.5h7M364 278.5h2M448 278.5h4M495 278.5h3M831 278.5h4M894 278.5h2M1004 278.5h2M1068 278.5h5M1203 278.5h2M1350 278.5h2M1753 278.5h6M2284 278.5h2M329 279.5h6M362 279.5h2M444 279.5h4M493 279.5h2M826 279.5h5M892 279.5h2M1006 279.5h2M1073 279.5h4M1204 279.5h3M1759 279.5h6M2282 279.5h2M322 280.5h7M360 280.5h2M441 280.5h3M491 280.5h2M822 280.5h4M889 280.5h3M1008 280.5h2M1077 280.5h5M1207 280.5h2M1353 280.5h2M1765 280.5h6M2280 280.5h2M2366 280.5h2M316 281.5h6M358 281.5h2M437 281.5h4M489 281.5h2M817 281.5h5M887 281.5h2M1010 281.5h2M1082 281.5h4M1209 281.5h2M1771 281.5h6M2278 281.5h2M309 282.5h7M356 282.5h2M433 282.5h4M487 282.5h2M813 282.5h4M885 282.5h2M1012 282.5h2M1086 282.5h5M1211 282.5h2M1777 282.5h6M2276 282.5h2M303 283.5h6M354 283.5h2M429 283.5h4M485 283.5h2M808 283.5h5M883 283.5h2M1014 283.5h2M1091 283.5h4M1213 283.5h2M1357 283.5h2M1783 283.5h7M2274 283.5h2M297 284.5h6M352 284.5h2M425 284.5h4M483 284.5h2M803 284.5h5M881 284.5h2M1016 284.5h2M1095 284.5h5M1215 284.5h2M1790 284.5h6M2272 284.5h2M291 285.5h6M350 285.5h2M421 285.5h4M481 285.5h2M799 285.5h4M878 285.5h3M1018 285.5h2M1100 285.5h4M1796 285.5h7M285 286.5h6M348 286.5h2M418 286.5h3M479 286.5h2M794 286.5h5M876 286.5h2M1020 286.5h2M1104 286.5h5M1218 286.5h2M1361 286.5h2M1803 286.5h7M2269 286.5h2M279 287.5h6M346 287.5h2M414 287.5h4M477 287.5h2M790 287.5h4M874 287.5h2M1022 287.5h2M1109 287.5h4M1220 287.5h2M1810 287.5h6M2267 287.5h2M2374 287.5h2M274 288.5h5M344 288.5h2M410 288.5h4M475 288.5h2M785 288.5h5M872 288.5h2M1113 288.5h5M1222 288.5h2M1816 288.5h7M2265 288.5h2M268 289.5h6M342 289.5h2M406 289.5h4M472 289.5h3M780 289.5h5M870 289.5h2M1025 289.5h2M1118 289.5h4M1224 289.5h2M1823 289.5h7M2263 289.5h2M263 290.5h5M340 290.5h2M402 290.5h4M470 290.5h2M776 290.5h4M867 290.5h3M1027 290.5h2M1122 290.5h5M1226 290.5h2M1830 290.5h7M2261 290.5h2M258 291.5h5M338 291.5h2M398 291.5h4M468 291.5h2M771 291.5h5M865 291.5h2M1029 291.5h2M1127 291.5h4M1215 291.5h2M1228 291.5h2M1837 291.5h7M2259 291.5h2M253 292.5h5M336 292.5h2M394 292.5h4M466 292.5h2M767 292.5h4M863 292.5h2M1031 292.5h2M1131 292.5h5M1217 292.5h2M1230 292.5h2M1844 292.5h7M2257 292.5h2M248 293.5h5M334 293.5h2M390 293.5h4M464 293.5h2M762 293.5h5M861 293.5h2M1033 293.5h2M1136 293.5h4M1232 293.5h2M1851 293.5h8M2255 293.5h2M243 294.5h5M332 294.5h2M387 294.5h3M462 294.5h2M757 294.5h5M859 294.5h2M1035 294.5h2M1140 294.5h4M1220 294.5h2M1859 294.5h6M2253 294.5h2M2382 294.5h2M239 295.5h4M330 295.5h2M383 295.5h4M460 295.5h2M753 295.5h4M857 295.5h2M1037 295.5h2M1144 295.5h5M1222 295.5h2M1235 295.5h2M1865 295.5h8M2251 295.5h2M234 296.5h5M328 296.5h2M379 296.5h4M458 296.5h2M748 296.5h5M854 296.5h3M1039 296.5h2M1149 296.5h4M1224 296.5h2M1237 296.5h2M1873 296.5h7M2249 296.5h2M230 297.5h4M325 297.5h3M375 297.5h4M456 297.5h2M744 297.5h4M852 297.5h2M1041 297.5h2M1153 297.5h5M1226 297.5h2M1239 297.5h2M1880 297.5h7M2247 297.5h2M226 298.5h4M323 298.5h2M371 298.5h4M454 298.5h2M739 298.5h5M850 298.5h2M1043 298.5h2M1158 298.5h4M1228 298.5h2M1241 298.5h2M1887 298.5h7M222 299.5h4M321 299.5h2M367 299.5h4M452 299.5h2M734 299.5h5M848 299.5h2M1045 299.5h2M1162 299.5h5M1230 299.5h2M1243 299.5h2M1894 299.5h7M2244 299.5h2M218 300.5h4M319 300.5h2M364 300.5h3M449 300.5h3M730 300.5h4M845 300.5h3M1047 300.5h2M1167 300.5h4M1232 300.5h2M1245 300.5h2M1901 300.5h7M2242 300.5h2M214 301.5h4M317 301.5h2M360 301.5h4M447 301.5h2M725 301.5h5M843 301.5h2M1049 301.5h2M1171 301.5h5M1234 301.5h2M1247 301.5h2M1908 301.5h8M2240 301.5h2M211 302.5h3M315 302.5h2M356 302.5h4M445 302.5h2M721 302.5h4M841 302.5h2M1051 302.5h2M1176 302.5h5M1916 302.5h7M2238 302.5h2M2391 302.5h2M208 303.5h3M313 303.5h2M352 303.5h4M443 303.5h2M716 303.5h5M839 303.5h2M1053 303.5h2M1180 303.5h4M1237 303.5h2M1250 303.5h2M1923 303.5h8M2236 303.5h2M204 304.5h4M311 304.5h2M348 304.5h4M441 304.5h2M711 304.5h5M837 304.5h2M1055 304.5h2M1184 304.5h5M1239 304.5h2M1252 304.5h2M1931 304.5h7M2234 304.5h2M201 305.5h3M308 305.5h3M344 305.5h4M439 305.5h2M707 305.5h4M835 305.5h2M1057 305.5h2M1189 305.5h4M1241 305.5h2M1254 305.5h2M1938 305.5h8M2232 305.5h2M199 306.5h2M306 306.5h2M341 306.5h3M437 306.5h2M702 306.5h5M833 306.5h2M1059 306.5h2M1193 306.5h4M1243 306.5h2M1256 306.5h2M1946 306.5h8M2230 306.5h2M2396 306.5h2M196 307.5h3M304 307.5h2M337 307.5h4M435 307.5h2M698 307.5h4M830 307.5h3M1197 307.5h4M1258 307.5h2M1954 307.5h8M2228 307.5h2M193 308.5h3M302 308.5h2M333 308.5h4M433 308.5h2M693 308.5h5M828 308.5h2M1062 308.5h2M1201 308.5h4M1246 308.5h2M1260 308.5h2M1962 308.5h9M2226 308.5h2M191 309.5h2M299 309.5h3M329 309.5h4M431 309.5h2M689 309.5h4M825 309.5h3M1064 309.5h2M1205 309.5h5M1248 309.5h3M1262 309.5h2M1971 309.5h9M189 310.5h2M297 310.5h2M325 310.5h4M429 310.5h2M684 310.5h5M1066 310.5h2M1210 310.5h4M1980 310.5h11M2223 310.5h2M187 311.5h2M295 311.5h2M321 311.5h4M426 311.5h3M679 311.5h5M821 311.5h3M1068 311.5h2M1214 311.5h4M1252 311.5h2M1265 311.5h2M1991 311.5h10M2221 311.5h2M183 312.5h4M293 312.5h2M317 312.5h4M424 312.5h2M675 312.5h4M819 312.5h2M1070 312.5h2M1218 312.5h5M1254 312.5h2M1267 312.5h2M2001 312.5h10M2219 312.5h2M182 313.5h2M291 313.5h2M313 313.5h4M422 313.5h2M670 313.5h5M817 313.5h2M1072 313.5h2M1223 313.5h5M1256 313.5h2M1269 313.5h2M2011 313.5h10M2217 313.5h2M181 314.5h2M289 314.5h2M309 314.5h4M420 314.5h2M666 314.5h4M815 314.5h2M1074 314.5h2M1228 314.5h6M1258 314.5h2M1271 314.5h2M2021 314.5h11M2215 314.5h2M179 315.5h2M287 315.5h2M306 315.5h3M418 315.5h2M662 315.5h4M813 315.5h2M1076 315.5h2M1234 315.5h5M1260 315.5h2M1273 315.5h2M2032 315.5h10M2213 315.5h2M2406 315.5h2M177 316.5h2M1239 316.5h2M2042 316.5h10M175 317.5h2M2052 317.5h10M2062 318.5h10M172 319.5h2M2072 319.5h11M170 320.5h2M2083 320.5h10M2093 321.5h10M167 322.5h2M2103 322.5h10M2113 323.5h4M164 324.5h2M162 325.5h2M161 326.5h3M159 327.5h2M156 329.5h2M152 332.5h2M149 334.5h2M145 337.5h2M141 340.5h2M705 342.5h5M1045 342.5h9M1225 342.5h5M700 343.5h5M1035 343.5h10M1167 343.5h2M1220 343.5h5M136 344.5h2M695 344.5h5M1026 344.5h9M1165 344.5h2M1215 344.5h5M690 345.5h5M1017 345.5h9M1163 345.5h2M1210 345.5h5M685 346.5h5M1008 346.5h9M1161 346.5h2M1205 346.5h5M1378 346.5h2M680 347.5h5M999 347.5h9M1159 347.5h2M1200 347.5h5M1376 347.5h2M675 348.5h5M990 348.5h9M1157 348.5h2M1195 348.5h5M1374 348.5h2M179 349.5h2M670 349.5h5M981 349.5h9M1155 349.5h2M1190 349.5h5M1370 349.5h4M129 350.5h2M665 350.5h5M972 350.5h9M1153 350.5h2M1185 350.5h5M1367 350.5h3M182 351.5h2M660 351.5h5M963 351.5h9M1151 351.5h2M1180 351.5h5M1363 351.5h4M655 352.5h5M953 352.5h10M1149 352.5h2M1175 352.5h5M1359 352.5h4M185 353.5h2M192 353.5h2M650 353.5h5M944 353.5h9M1147 353.5h2M1170 353.5h5M1355 353.5h4M645 354.5h5M935 354.5h9M1144 354.5h3M1165 354.5h5M1350 354.5h5M188 355.5h2M195 355.5h2M640 355.5h5M925 355.5h10M1141 355.5h3M1159 355.5h6M1342 355.5h8M190 356.5h2M197 356.5h2M635 356.5h5M916 356.5h9M1137 356.5h4M1154 356.5h5M1335 356.5h7M192 357.5h2M199 357.5h2M630 357.5h5M907 357.5h9M1133 357.5h4M1149 357.5h5M1328 357.5h7M194 358.5h2M201 358.5h2M625 358.5h5M897 358.5h10M1130 358.5h3M1143 358.5h6M1321 358.5h7M196 359.5h2M203 359.5h2M620 359.5h5M887 359.5h10M1125 359.5h5M1136 359.5h7M1315 359.5h6M198 360.5h3M205 360.5h2M615 360.5h5M878 360.5h9M1121 360.5h4M1130 360.5h6M1308 360.5h7M201 361.5h2M207 361.5h2M610 361.5h5M868 361.5h10M1117 361.5h4M1123 361.5h7M1302 361.5h6M203 362.5h3M209 362.5h3M605 362.5h5M858 362.5h10M1112 362.5h11M1295 362.5h7M206 363.5h2M212 363.5h2M600 363.5h5M848 363.5h10M1108 363.5h8M1287 363.5h8M208 364.5h3M214 364.5h3M595 364.5h5M837 364.5h11M1101 364.5h8M1277 364.5h10M211 365.5h3M217 365.5h3M590 365.5h5M826 365.5h11M1093 365.5h10M1267 365.5h10M214 366.5h3M220 366.5h2M585 366.5h5M815 366.5h11M1085 366.5h13M1255 366.5h12M217 367.5h2M222 367.5h4M580 367.5h5M803 367.5h12M1077 367.5h8M1088 367.5h5M1243 367.5h12M219 368.5h4M226 368.5h3M575 368.5h5M791 368.5h12M1068 368.5h9M1083 368.5h5M1231 368.5h12M223 369.5h3M229 369.5h4M571 369.5h4M780 369.5h11M1059 369.5h9M1078 369.5h5M1218 369.5h13M226 370.5h3M233 370.5h4M566 370.5h5M768 370.5h12M1049 370.5h10M1074 370.5h4M1204 370.5h14M229 371.5h3M237 371.5h5M561 371.5h5M757 371.5h11M1039 371.5h10M1069 371.5h5M1191 371.5h13M232 372.5h3M242 372.5h5M556 372.5h5M747 372.5h10M1027 372.5h12M1064 372.5h5M1177 372.5h14M235 373.5h3M247 373.5h5M551 373.5h5M736 373.5h11M1013 373.5h14M1059 373.5h5M1163 373.5h14M238 374.5h3M252 374.5h6M546 374.5h5M725 374.5h11M995 374.5h18M1054 374.5h5M1149 374.5h14M241 375.5h4M258 375.5h6M541 375.5h5M715 375.5h10M971 375.5h24M1049 375.5h5M1136 375.5h13M245 376.5h3M264 376.5h7M536 376.5h5M704 376.5h11M945 376.5h26M1044 376.5h5M1123 376.5h13M248 377.5h3M271 377.5h8M531 377.5h5M694 377.5h10M916 377.5h29M1039 377.5h5M1110 377.5h13M251 378.5h4M279 378.5h8M527 378.5h4M684 378.5h10M885 378.5h31M1034 378.5h5M1096 378.5h14M255 379.5h3M287 379.5h8M522 379.5h5M674 379.5h10M859 379.5h26M1029 379.5h5M1083 379.5h13M258 380.5h4M295 380.5h10M517 380.5h5M664 380.5h10M834 380.5h25M1023 380.5h6M1069 380.5h14M262 381.5h3M305 381.5h10M512 381.5h5M654 381.5h10M810 381.5h24M1018 381.5h5M1055 381.5h14M265 382.5h4M315 382.5h13M507 382.5h5M645 382.5h9M785 382.5h25M1013 382.5h5M1041 382.5h14M269 383.5h3M328 383.5h14M502 383.5h6M635 383.5h10M761 383.5h24M1008 383.5h5M1026 383.5h15M272 384.5h4M342 384.5h14M497 384.5h5M626 384.5h9M737 384.5h24M1003 384.5h5M1011 384.5h15M276 385.5h4M356 385.5h14M493 385.5h4M617 385.5h9M714 385.5h23M995 385.5h16M280 386.5h4M370 386.5h16M488 386.5h5M609 386.5h8M690 386.5h24M978 386.5h20M284 387.5h4M386 387.5h18M483 387.5h5M600 387.5h9M665 387.5h25M960 387.5h18M989 387.5h4M288 388.5h5M404 388.5h16M478 388.5h5M592 388.5h8M639 388.5h26M941 388.5h19M984 388.5h5M293 389.5h4M420 389.5h13M473 389.5h5M584 389.5h8M617 389.5h22M921 389.5h20M979 389.5h5M297 390.5h5M433 390.5h7M469 390.5h4M578 390.5h6M599 390.5h18M900 390.5h21M974 390.5h5M302 391.5h5M440 391.5h5M464 391.5h5M573 391.5h5M587 391.5h12M879 391.5h21M969 391.5h5M307 392.5h5M445 392.5h6M459 392.5h5M568 392.5h5M579 392.5h8M858 392.5h21M965 392.5h4M312 393.5h6M451 393.5h8M564 393.5h4M571 393.5h8M836 393.5h22M960 393.5h5M318 394.5h6M449 394.5h5M458 394.5h8M559 394.5h12M816 394.5h20M955 394.5h5M324 395.5h5M444 395.5h5M466 395.5h8M556 395.5h8M795 395.5h21M950 395.5h5M329 396.5h6M774 396.5h21M946 396.5h4M335 397.5h5M753 397.5h21M941 397.5h5M340 398.5h7M732 398.5h21M936 398.5h5M347 399.5h7M710 399.5h22M932 399.5h4M354 400.5h7M687 400.5h23M927 400.5h5M361 401.5h7M663 401.5h24M922 401.5h5M636 402.5h27M918 402.5h4M606 403.5h30M913 403.5h5M575 404.5h31M909 404.5h4M556 405.5h19M904 405.5h5M899 406.5h5M895 407.5h4M890 408.5h5M886 409.5h4M881 410.5h5M876 411.5h5M872 412.5h4M867 413.5h5M862 414.5h5M858 415.5h4M853 416.5h5M848 417.5h5M444 418.5h3M844 418.5h4M447 419.5h6M839 419.5h5M453 420.5h6M557 420.5h4M835 420.5h4M459 421.5h6M561 421.5h3M830 421.5h5M376 422.5h2M465 422.5h7M564 422.5h4M826 422.5h4M472 423.5h7M568 423.5h3M822 423.5h4M373 424.5h2M479 424.5h7M571 424.5h4M817 424.5h5M371 425.5h2M486 425.5h9M575 425.5h3M813 425.5h4M369 426.5h2M495 426.5h8M578 426.5h4M809 426.5h4M940 426.5h49M367 427.5h2M503 427.5h10M582 427.5h3M805 427.5h135M989 427.5h35M365 428.5h2M513 428.5h12M585 428.5h3M760 428.5h45M1024 428.5h19M363 429.5h2M525 429.5h21M588 429.5h4M724 429.5h36M797 429.5h4M1043 429.5h15M546 430.5h56M680 430.5h44M794 430.5h3M1058 430.5h14M360 431.5h2M595 431.5h4M602 431.5h78M790 431.5h4M1072 431.5h12M358 432.5h2M599 432.5h3M786 432.5h4M1084 432.5h13M356 433.5h2M602 433.5h4M782 433.5h4M1097 433.5h12M354 434.5h2M606 434.5h3M779 434.5h3M1109 434.5h12M352 435.5h2M609 435.5h4M775 435.5h4M1121 435.5h11M613 436.5h3M772 436.5h3M1132 436.5h11M349 437.5h2M616 437.5h3M768 437.5h4M1143 437.5h10M347 438.5h2M619 438.5h4M765 438.5h3M1153 438.5h10M345 439.5h2M623 439.5h3M762 439.5h3M1163 439.5h10M343 440.5h2M626 440.5h4M758 440.5h4M1173 440.5h10M341 441.5h2M630 441.5h3M755 441.5h3M1183 441.5h10M339 442.5h2M633 442.5h4M752 442.5h3M1193 442.5h9M337 443.5h2M637 443.5h3M749 443.5h3M1202 443.5h9M640 444.5h4M746 444.5h3M1211 444.5h9M334 445.5h2M644 445.5h3M743 445.5h3M1220 445.5h8M332 446.5h2M647 446.5h4M740 446.5h3M1228 446.5h5M330 447.5h2M651 447.5h3M736 447.5h4M1233 447.5h4M328 448.5h2M654 448.5h3M734 448.5h2M1237 448.5h3M326 449.5h2M657 449.5h4M731 449.5h3M1240 449.5h4M661 450.5h3M728 450.5h3M1244 450.5h3M323 451.5h2M664 451.5h4M725 451.5h3M1247 451.5h4M321 452.5h2M668 452.5h3M722 452.5h3M1251 452.5h3M319 453.5h2M671 453.5h3M719 453.5h3M1254 453.5h4M317 454.5h2M674 454.5h4M716 454.5h3M1258 454.5h3M315 455.5h2M678 455.5h3M714 455.5h2M1261 455.5h4M313 456.5h2M681 456.5h4M711 456.5h3M1265 456.5h3M685 457.5h3M709 457.5h2M1268 457.5h4M310 458.5h2M688 458.5h4M706 458.5h3M1272 458.5h3M308 459.5h2M692 459.5h3M704 459.5h2M1275 459.5h4M306 460.5h2M695 460.5h4M702 460.5h2M1279 460.5h3M304 461.5h2M699 461.5h3M1282 461.5h4M302 462.5h2M697 462.5h2M702 462.5h4M1286 462.5h3M300 463.5h2M695 463.5h2M706 463.5h3M1289 463.5h4M693 464.5h2M709 464.5h3M1293 464.5h3M297 465.5h2M691 465.5h2M712 465.5h4M1296 465.5h4M295 466.5h2M689 466.5h2M716 466.5h3M1300 466.5h3M293 467.5h2M687 467.5h2M719 467.5h4M1303 467.5h4M291 468.5h2M685 468.5h2M723 468.5h3M1307 468.5h3M726 469.5h4M1310 469.5h4M682 470.5h2M730 470.5h3M1314 470.5h2M1318 473.5h2M1321 475.5h2M1324 477.5h2M1327 479.5h2M1330 481.5h2M1334 484.5h2M1337 486.5h2M663 488.5h2M1340 488.5h2M1343 490.5h2M1346 492.5h2M1349 494.5h2M1353 497.5h2M737 498.5h2M842 498.5h3M734 499.5h3M812 499.5h3M845 499.5h4M1356 499.5h2M731 500.5h3M815 500.5h2M849 500.5h4M729 501.5h2M817 501.5h2M853 501.5h4M1359 501.5h2M726 502.5h3M819 502.5h2M857 502.5h4M724 503.5h2M821 503.5h3M861 503.5h4M1362 503.5h2M721 504.5h3M824 504.5h2M865 504.5h4M718 505.5h3M826 505.5h2M869 505.5h4M1365 505.5h2M716 506.5h2M828 506.5h2M873 506.5h4M713 507.5h3M830 507.5h3M877 507.5h4M710 508.5h3M833 508.5h2M881 508.5h4M708 509.5h2M835 509.5h2M885 509.5h4M705 510.5h3M837 510.5h2M889 510.5h4M703 511.5h2M839 511.5h3M893 511.5h4M700 512.5h3M842 512.5h2M897 512.5h4M698 513.5h2M844 513.5h2M901 513.5h4M695 514.5h3M846 514.5h3M905 514.5h4M693 515.5h2M849 515.5h2M909 515.5h4M691 516.5h2M851 516.5h2M913 516.5h4M688 517.5h3M853 517.5h2M917 517.5h4M686 518.5h2M855 518.5h3M921 518.5h4M684 519.5h2M858 519.5h2M925 519.5h4M681 520.5h3M860 520.5h2M929 520.5h5M679 521.5h2M862 521.5h2M934 521.5h4M677 522.5h2M864 522.5h2M938 522.5h4M675 523.5h2M866 523.5h3M942 523.5h5M673 524.5h2M869 524.5h2M947 524.5h4M671 525.5h2M871 525.5h2M951 525.5h4M669 526.5h2M873 526.5h2M955 526.5h5M667 527.5h2M875 527.5h3M960 527.5h4M665 528.5h2M878 528.5h2M964 528.5h5M663 529.5h2M880 529.5h2M969 529.5h4M661 530.5h2M882 530.5h3M973 530.5h5M659 531.5h2M885 531.5h2M978 531.5h5M657 532.5h2M887 532.5h2M983 532.5h5M655 533.5h2M889 533.5h2M988 533.5h4M653 534.5h2M891 534.5h3M992 534.5h6M651 535.5h2M894 535.5h2M998 535.5h5M896 536.5h2M1003 536.5h5M648 537.5h2M898 537.5h2M1008 537.5h5M646 538.5h2M900 538.5h3M1013 538.5h6M644 539.5h2M903 539.5h2M1019 539.5h5M641 540.5h3M905 540.5h2M1024 540.5h6M640 541.5h2M907 541.5h3M1030 541.5h5M638 542.5h2M910 542.5h2M1035 542.5h6M912 543.5h2M1041 543.5h6M635 544.5h2M914 544.5h2M1047 544.5h5M633 545.5h2M916 545.5h3M1052 545.5h6M631 546.5h2M919 546.5h2M1058 546.5h6M629 547.5h2M921 547.5h2M1064 547.5h5M923 548.5h2M1069 548.5h3M626 549.5h2M624 550.5h2M621 552.5h2M619 553.5h2M616 555.5h2M614 556.5h2M611 558.5h2M608 560.5h2M606 561.5h2M603 563.5h2M601 564.5h2M598 566.5h2M595 568.5h2M593 569.5h2M590 571.5h2M587 573.5h2M585 574.5h2M1056 575.5h7M582 576.5h2M1050 576.5h11M1089 576.5h3M1158 576.5h2M1044 577.5h6M1051 577.5h5M1087 577.5h2M1160 577.5h2M579 578.5h2M1038 578.5h6M1047 578.5h4M1084 578.5h3M1162 578.5h2M1031 579.5h7M1042 579.5h5M1082 579.5h2M1164 579.5h2M576 580.5h2M1025 580.5h6M1037 580.5h5M1079 580.5h3M1166 580.5h2M1019 581.5h6M1033 581.5h4M1077 581.5h2M573 582.5h2M1013 582.5h6M1028 582.5h5M1074 582.5h3M1169 582.5h2M1007 583.5h6M1023 583.5h5M1072 583.5h2M1171 583.5h2M1000 584.5h7M1018 584.5h5M1069 584.5h3M1173 584.5h2M569 585.5h2M994 585.5h6M1014 585.5h4M1066 585.5h3M1175 585.5h2M987 586.5h7M1009 586.5h5M1063 586.5h3M1177 586.5h2M980 587.5h7M1004 587.5h5M1060 587.5h3M1179 587.5h2M565 588.5h2M974 588.5h6M1000 588.5h4M1058 588.5h2M1181 588.5h2M967 589.5h7M995 589.5h5M1055 589.5h3M1183 589.5h2M562 590.5h2M960 590.5h7M990 590.5h5M1051 590.5h4M1185 590.5h2M562 591.5h2M953 591.5h7M986 591.5h4M1048 591.5h3M1187 591.5h2M560 592.5h2M945 592.5h8M981 592.5h5M1045 592.5h3M1189 592.5h2M938 593.5h7M976 593.5h5M1041 593.5h4M930 594.5h8M972 594.5h4M1038 594.5h3M1192 594.5h3M664 595.5h2M923 595.5h7M967 595.5h5M1035 595.5h3M915 596.5h8M962 596.5h5M1031 596.5h4M1196 596.5h2M554 597.5h2M907 597.5h8M958 597.5h4M1028 597.5h3M1094 597.5h2M1198 597.5h2M668 598.5h2M900 598.5h7M953 598.5h5M1025 598.5h3M1200 598.5h2M892 599.5h8M948 599.5h5M1021 599.5h4M1202 599.5h2M884 600.5h8M943 600.5h5M1018 600.5h3M1204 600.5h2M672 601.5h2M876 601.5h8M938 601.5h5M1015 601.5h3M1206 601.5h2M869 602.5h7M933 602.5h5M1011 602.5h4M1208 602.5h2M547 603.5h2M675 603.5h2M861 603.5h8M928 603.5h5M1008 603.5h3M1210 603.5h2M853 604.5h8M924 604.5h4M1005 604.5h3M1212 604.5h2M678 605.5h2M846 605.5h7M919 605.5h5M1002 605.5h3M1214 605.5h2M680 606.5h2M837 606.5h9M914 606.5h5M999 606.5h3M1216 606.5h2M682 607.5h2M831 607.5h7M910 607.5h4M996 607.5h3M1218 607.5h2M824 608.5h7M906 608.5h4M993 608.5h3M1220 608.5h2M685 609.5h2M817 609.5h7M901 609.5h5M990 609.5h3M1222 609.5h2M810 610.5h7M897 610.5h4M987 610.5h3M688 611.5h2M803 611.5h7M893 611.5h4M984 611.5h3M1225 611.5h2M796 612.5h7M889 612.5h4M982 612.5h2M1227 612.5h2M536 613.5h2M789 613.5h7M885 613.5h4M979 613.5h3M1229 613.5h2M692 614.5h2M782 614.5h7M882 614.5h3M976 614.5h3M1231 614.5h2M776 615.5h6M878 615.5h4M973 615.5h3M1233 615.5h2M769 616.5h7M875 616.5h3M971 616.5h2M1235 616.5h2M762 617.5h7M872 617.5h3M968 617.5h3M1237 617.5h2M756 618.5h6M869 618.5h3M965 618.5h3M1239 618.5h2M749 619.5h7M867 619.5h2M962 619.5h3M1241 619.5h2M743 620.5h6M865 620.5h2M960 620.5h2M1070 620.5h2M1243 620.5h2M736 621.5h7M863 621.5h2M957 621.5h3M1245 621.5h2M729 622.5h7M861 622.5h2M955 622.5h2M723 623.5h6M859 623.5h2M952 623.5h3M1248 623.5h2M595 624.5h2M716 624.5h7M949 624.5h3M1250 624.5h2M710 625.5h6M856 625.5h2M1252 625.5h2M703 626.5h7M697 627.5h7M690 628.5h7M848 633.5h2M1314 652.5h2M1316 653.5h3M1599 653.5h2M1319 654.5h2M1321 655.5h3M1596 655.5h2M1324 656.5h3M1594 656.5h2M1327 657.5h3M1592 657.5h2M1330 658.5h3M1333 659.5h2M1589 659.5h2M1649 659.5h2M1335 660.5h3M1587 660.5h2M1338 661.5h3M1341 662.5h3M1584 662.5h2M1344 663.5h2M1582 663.5h2M1346 664.5h3M1580 664.5h2M1349 665.5h3M1352 666.5h3M1577 666.5h2M1355 667.5h2M1575 667.5h2M1357 668.5h3M1360 669.5h3M1572 669.5h2M1363 670.5h3M1570 670.5h2M1366 671.5h2M1568 671.5h2M1368 672.5h3M1371 673.5h3M1565 673.5h2M1374 674.5h2M1563 674.5h2M1376 675.5h3M1561 675.5h2M1379 676.5h3M1559 676.5h2M1382 677.5h3M1385 678.5h2M1556 678.5h2M1387 679.5h3M1554 679.5h2M1390 680.5h3M1552 680.5h2M1393 681.5h3M1395 682.5h3M1549 682.5h2M1398 683.5h3M1547 683.5h2M1401 684.5h2M1545 684.5h2M1403 685.5h3M1406 686.5h3M1542 686.5h2M1409 687.5h2M1540 687.5h2M1411 688.5h3M1538 688.5h2M1414 689.5h3M1536 689.5h2M1417 690.5h2M1419 691.5h3M1533 691.5h2M1422 692.5h3M1531 692.5h2M1425 693.5h2M1529 693.5h2M1427 694.5h3M1430 695.5h2M1525 695.5h3M1432 696.5h3M1435 697.5h3M1522 697.5h2M1438 698.5h2M1520 698.5h2M1440 699.5h3M1518 699.5h2M1443 700.5h3M1446 701.5h2M1515 701.5h2M1448 702.5h3M1513 702.5h2M1451 703.5h2M1051 729.5h3M1047 730.5h4M1588 730.5h2M1602 730.5h2M866 731.5h2M1043 731.5h4M1586 731.5h2M1038 732.5h5M1584 732.5h2M1599 732.5h2M863 733.5h2M1034 733.5h4M1581 733.5h3M1030 734.5h4M1579 734.5h2M1596 734.5h2M860 735.5h2M1026 735.5h4M1577 735.5h2M1594 735.5h2M1021 736.5h5M1574 736.5h3M857 737.5h2M1017 737.5h4M1572 737.5h2M1591 737.5h2M855 738.5h2M1013 738.5h4M1570 738.5h2M1589 738.5h2M1008 739.5h5M1567 739.5h3M852 740.5h2M1004 740.5h4M1565 740.5h2M1586 740.5h2M1000 741.5h4M1563 741.5h2M1584 741.5h2M849 742.5h2M996 742.5h4M1560 742.5h3M991 743.5h5M1558 743.5h2M1581 743.5h2M846 744.5h2M987 744.5h4M1556 744.5h2M983 745.5h4M1553 745.5h3M1578 745.5h2M843 746.5h2M978 746.5h5M1551 746.5h2M1576 746.5h2M974 747.5h4M1548 747.5h3M840 748.5h2M970 748.5h4M1546 748.5h2M1573 748.5h2M838 749.5h2M966 749.5h4M1543 749.5h3M1571 749.5h2M961 750.5h5M1541 750.5h2M835 751.5h2M957 751.5h4M1539 751.5h2M1568 751.5h2M952 752.5h5M1536 752.5h3M1566 752.5h2M832 753.5h2M948 753.5h4M1534 753.5h2M944 754.5h4M1531 754.5h3M1563 754.5h2M829 755.5h2M939 755.5h5M1528 755.5h3M1561 755.5h2M827 756.5h2M935 756.5h4M1526 756.5h2M930 757.5h5M1523 757.5h3M1558 757.5h2M824 758.5h2M926 758.5h4M1521 758.5h2M921 759.5h5M1518 759.5h3M1555 759.5h2M821 760.5h2M917 760.5h4M1515 760.5h3M1553 760.5h2M819 761.5h2M912 761.5h5M1513 761.5h2M908 762.5h4M1510 762.5h3M1550 762.5h2M816 763.5h2M903 763.5h5M1508 763.5h2M1548 763.5h2M814 764.5h2M899 764.5h4M1505 764.5h3M894 765.5h5M1502 765.5h3M1545 765.5h2M811 766.5h2M890 766.5h4M1500 766.5h2M1543 766.5h2M885 767.5h5M1497 767.5h3M808 768.5h2M881 768.5h4M1494 768.5h3M1540 768.5h2M806 769.5h2M876 769.5h5M1492 769.5h2M1538 769.5h2M871 770.5h5M1489 770.5h3M803 771.5h2M867 771.5h4M1486 771.5h3M1535 771.5h2M801 772.5h2M862 772.5h5M1484 772.5h2M1533 772.5h2M799 773.5h2M858 773.5h4M1481 773.5h3M1531 773.5h2M853 774.5h5M1478 774.5h3M796 775.5h2M848 775.5h5M1475 775.5h3M1528 775.5h2M794 776.5h2M844 776.5h4M951 776.5h2M1473 776.5h2M1526 776.5h2M839 777.5h5M1470 777.5h3M791 778.5h2M835 778.5h4M1467 778.5h3M1523 778.5h2M830 779.5h5M1465 779.5h2M1521 779.5h2M788 780.5h2M828 780.5h2M1519 780.5h2M1516 782.5h2M959 783.5h2M1514 783.5h2M1511 785.5h2M1509 786.5h2M1506 788.5h2M1504 789.5h2M967 790.5h2M1502 790.5h2M1499 792.5h2M1497 793.5h2M1495 794.5h2M1492 796.5h2M1490 797.5h2M699 798.5h5M687 799.5h12M977 799.5h2M1487 799.5h2M674 800.5h13M1485 800.5h2M662 801.5h12M1483 801.5h2M650 802.5h12M639 803.5h11M1480 803.5h2M628 804.5h11M1478 804.5h2M617 805.5h11M607 806.5h10M1475 806.5h2M597 807.5h10M698 807.5h6M817 807.5h2M1473 807.5h2M587 808.5h10M693 808.5h8M733 808.5h2M800 808.5h2M819 808.5h4M1471 808.5h2M578 809.5h9M687 809.5h9M731 809.5h2M802 809.5h3M823 809.5h4M568 810.5h10M682 810.5h9M728 810.5h3M804 810.5h3M827 810.5h3M1468 810.5h2M559 811.5h9M677 811.5h9M726 811.5h2M806 811.5h3M830 811.5h4M1466 811.5h2M550 812.5h9M671 812.5h11M724 812.5h2M808 812.5h4M834 812.5h4M1464 812.5h2M541 813.5h9M665 813.5h6M672 813.5h5M722 813.5h2M810 813.5h4M838 813.5h4M1462 813.5h2M532 814.5h9M660 814.5h5M668 814.5h4M720 814.5h2M812 814.5h4M842 814.5h4M993 814.5h2M523 815.5h9M655 815.5h5M663 815.5h5M717 815.5h3M814 815.5h4M846 815.5h3M1459 815.5h2M514 816.5h9M649 816.5h6M659 816.5h4M715 816.5h2M816 816.5h4M849 816.5h4M1457 816.5h2M506 817.5h8M644 817.5h5M654 817.5h5M713 817.5h2M820 817.5h3M853 817.5h4M497 818.5h9M638 818.5h6M650 818.5h4M711 818.5h2M819 818.5h2M823 818.5h2M857 818.5h4M1454 818.5h2M488 819.5h9M633 819.5h5M646 819.5h4M708 819.5h3M821 819.5h2M825 819.5h2M861 819.5h3M1452 819.5h2M480 820.5h8M628 820.5h5M642 820.5h4M706 820.5h2M823 820.5h2M827 820.5h2M864 820.5h4M1450 820.5h2M471 821.5h9M622 821.5h6M638 821.5h4M704 821.5h2M825 821.5h2M829 821.5h2M868 821.5h4M463 822.5h8M617 822.5h5M634 822.5h4M702 822.5h2M831 822.5h2M872 822.5h4M1447 822.5h2M454 823.5h9M612 823.5h5M630 823.5h4M700 823.5h2M828 823.5h2M833 823.5h2M876 823.5h4M1445 823.5h2M446 824.5h8M607 824.5h5M626 824.5h4M697 824.5h3M830 824.5h2M835 824.5h2M880 824.5h3M1443 824.5h2M438 825.5h8M601 825.5h6M622 825.5h4M695 825.5h2M832 825.5h2M837 825.5h2M883 825.5h4M430 826.5h8M596 826.5h5M619 826.5h3M693 826.5h2M887 826.5h4M1440 826.5h2M422 827.5h8M591 827.5h5M615 827.5h4M691 827.5h2M835 827.5h2M840 827.5h2M891 827.5h4M1438 827.5h2M414 828.5h8M586 828.5h5M612 828.5h3M689 828.5h2M842 828.5h2M895 828.5h4M1436 828.5h2M407 829.5h7M581 829.5h5M609 829.5h3M686 829.5h3M838 829.5h2M844 829.5h2M899 829.5h3M1009 829.5h2M1434 829.5h2M399 830.5h8M576 830.5h5M605 830.5h4M684 830.5h2M840 830.5h2M846 830.5h2M902 830.5h4M392 831.5h7M571 831.5h5M602 831.5h3M682 831.5h2M906 831.5h4M1431 831.5h2M386 832.5h6M566 832.5h5M599 832.5h3M680 832.5h2M843 832.5h2M849 832.5h2M910 832.5h4M1429 832.5h2M379 833.5h7M561 833.5h5M596 833.5h3M677 833.5h3M851 833.5h2M914 833.5h4M372 834.5h7M556 834.5h5M592 834.5h4M675 834.5h2M846 834.5h2M918 834.5h3M1426 834.5h2M366 835.5h6M551 835.5h5M589 835.5h3M673 835.5h2M854 835.5h2M921 835.5h4M1424 835.5h2M359 836.5h7M546 836.5h5M586 836.5h3M671 836.5h2M849 836.5h2M856 836.5h2M925 836.5h4M1422 836.5h2M354 837.5h5M541 837.5h5M583 837.5h3M668 837.5h3M929 837.5h4M1420 837.5h2M349 838.5h5M536 838.5h5M579 838.5h4M666 838.5h2M859 838.5h2M933 838.5h3M344 839.5h5M531 839.5h5M576 839.5h3M664 839.5h2M936 839.5h4M1417 839.5h2M339 840.5h5M526 840.5h5M573 840.5h3M662 840.5h2M862 840.5h2M940 840.5h4M1415 840.5h2M335 841.5h4M521 841.5h5M570 841.5h3M659 841.5h3M855 841.5h2M864 841.5h2M944 841.5h4M1413 841.5h2M331 842.5h4M516 842.5h5M566 842.5h4M657 842.5h2M948 842.5h3M1411 842.5h2M327 843.5h4M512 843.5h4M563 843.5h3M655 843.5h2M867 843.5h2M951 843.5h4M324 844.5h3M506 844.5h6M560 844.5h3M653 844.5h2M955 844.5h4M1408 844.5h2M321 845.5h3M501 845.5h5M557 845.5h3M650 845.5h3M870 845.5h2M959 845.5h4M1406 845.5h2M318 846.5h3M496 846.5h5M553 846.5h4M648 846.5h2M963 846.5h3M1027 846.5h2M1404 846.5h2M315 847.5h3M491 847.5h5M550 847.5h3M646 847.5h2M873 847.5h2M966 847.5h4M313 848.5h2M486 848.5h5M547 848.5h3M644 848.5h2M970 848.5h4M1401 848.5h2M311 849.5h2M481 849.5h5M543 849.5h4M641 849.5h3M876 849.5h2M974 849.5h4M1399 849.5h2M309 850.5h2M476 850.5h5M540 850.5h3M639 850.5h2M978 850.5h3M1397 850.5h2M307 851.5h2M471 851.5h5M537 851.5h3M637 851.5h2M879 851.5h2M981 851.5h4M305 852.5h2M467 852.5h4M533 852.5h4M635 852.5h2M985 852.5h4M1394 852.5h2M461 853.5h6M530 853.5h3M632 853.5h3M989 853.5h4M1392 853.5h2M302 854.5h2M456 854.5h5M527 854.5h3M630 854.5h2M883 854.5h2M993 854.5h3M1390 854.5h2M451 855.5h5M523 855.5h4M628 855.5h2M996 855.5h4M1388 855.5h2M447 856.5h4M520 856.5h3M625 856.5h3M886 856.5h2M1000 856.5h4M517 857.5h3M1004 857.5h2M1385 857.5h2M513 858.5h4M1383 858.5h2M511 859.5h2M890 859.5h2M1381 859.5h2M1379 860.5h2M894 862.5h2M1376 862.5h2M1374 863.5h2M1372 864.5h2M1370 865.5h2M899 866.5h2M1367 867.5h2M1365 868.5h2M1363 869.5h2M904 870.5h2M1361 870.5h2M1358 872.5h2M1356 873.5h2M1354 874.5h2M911 876.5h2M1351 876.5h2M1349 877.5h2M1347 878.5h2M1345 879.5h2M1343 880.5h2M918 882.5h2M1340 882.5h2M1338 883.5h2M1336 884.5h2M440 885.5h5M1334 885.5h2M410 886.5h2M445 886.5h4M412 887.5h3M449 887.5h4M1331 887.5h2M415 888.5h2M453 888.5h5M1329 888.5h2M417 889.5h2M458 889.5h4M1327 889.5h2M419 890.5h2M462 890.5h4M927 890.5h2M1325 890.5h2M421 891.5h2M466 891.5h5M1323 891.5h2M423 892.5h2M471 892.5h4M857 892.5h2M1321 892.5h2M425 893.5h2M475 893.5h4M427 894.5h2M479 894.5h5M854 894.5h2M1318 894.5h2M429 895.5h2M484 895.5h4M1316 895.5h2M431 896.5h3M488 896.5h4M851 896.5h2M1314 896.5h2M434 897.5h2M492 897.5h5M849 897.5h2M1312 897.5h2M436 898.5h2M497 898.5h4M847 898.5h2M1310 898.5h2M438 899.5h2M501 899.5h5M845 899.5h2M1308 899.5h2M440 900.5h2M506 900.5h4M842 900.5h3M938 900.5h2M1306 900.5h2M442 901.5h2M510 901.5h4M840 901.5h2M1304 901.5h2M444 902.5h2M514 902.5h5M838 902.5h2M1302 902.5h2M446 903.5h2M519 903.5h4M835 903.5h3M1300 903.5h2M448 904.5h2M523 904.5h4M833 904.5h2M1298 904.5h2M450 905.5h2M527 905.5h5M830 905.5h3M1296 905.5h2M452 906.5h2M532 906.5h4M827 906.5h3M1294 906.5h2M454 907.5h2M536 907.5h4M825 907.5h2M1292 907.5h2M456 908.5h3M540 908.5h5M822 908.5h3M1290 908.5h2M459 909.5h2M545 909.5h4M819 909.5h3M1288 909.5h2M461 910.5h2M549 910.5h4M816 910.5h3M1286 910.5h2M463 911.5h2M553 911.5h5M813 911.5h3M1284 911.5h2M465 912.5h2M558 912.5h4M809 912.5h4M1282 912.5h2M1690 912.5h2M467 913.5h2M562 913.5h5M806 913.5h3M1280 913.5h2M469 914.5h2M567 914.5h4M803 914.5h3M1278 914.5h2M471 915.5h2M571 915.5h4M799 915.5h4M1276 915.5h2M473 916.5h2M575 916.5h5M796 916.5h3M1274 916.5h2M1685 916.5h2M475 917.5h2M580 917.5h4M793 917.5h3M1272 917.5h2M477 918.5h3M584 918.5h4M789 918.5h4M1270 918.5h2M480 919.5h2M588 919.5h5M785 919.5h4M1268 919.5h2M1681 919.5h2M482 920.5h2M593 920.5h4M781 920.5h4M1266 920.5h2M484 921.5h2M597 921.5h4M776 921.5h5M1264 921.5h2M486 922.5h2M601 922.5h5M772 922.5h4M1262 922.5h2M488 923.5h2M606 923.5h4M767 923.5h5M1260 923.5h2M1676 923.5h2M490 924.5h2M610 924.5h4M762 924.5h5M1258 924.5h2M492 925.5h2M614 925.5h5M757 925.5h5M1256 925.5h2M494 926.5h2M619 926.5h4M752 926.5h5M1254 926.5h2M1672 926.5h2M496 927.5h2M623 927.5h5M747 927.5h5M1252 927.5h2M498 928.5h2M628 928.5h4M742 928.5h5M1250 928.5h2M500 929.5h3M632 929.5h4M738 929.5h4M1248 929.5h2M503 930.5h2M636 930.5h5M733 930.5h5M1246 930.5h2M1667 930.5h2M505 931.5h2M641 931.5h4M728 931.5h5M507 932.5h2M645 932.5h4M722 932.5h6M1243 932.5h2M509 933.5h2M649 933.5h5M717 933.5h5M1240 933.5h3M1663 933.5h2M511 934.5h2M654 934.5h4M711 934.5h6M1238 934.5h2M658 935.5h4M705 935.5h6M1236 935.5h2M1660 935.5h2M662 936.5h5M697 936.5h8M1234 936.5h2M1657 936.5h3M667 937.5h4M689 937.5h8M1655 937.5h2M671 938.5h5M680 938.5h9M1231 938.5h2M1653 938.5h2M671 939.5h9M1228 939.5h3M1651 939.5h2M661 940.5h10M680 940.5h4M1226 940.5h2M1649 940.5h2M650 941.5h11M684 941.5h5M1224 941.5h2M1646 941.5h3M638 942.5h12M689 942.5h4M1222 942.5h2M1644 942.5h2M626 943.5h12M693 943.5h4M1642 943.5h2M614 944.5h12M697 944.5h5M1219 944.5h2M1640 944.5h2M611 945.5h3M702 945.5h4M1216 945.5h3M1638 945.5h2M706 946.5h4M1214 946.5h2M1636 946.5h2M710 947.5h5M1212 947.5h2M1634 947.5h2M715 948.5h4M1631 948.5h3M719 949.5h5M1209 949.5h2M1629 949.5h2M724 950.5h4M1207 950.5h2M1627 950.5h2M728 951.5h4M1205 951.5h2M1625 951.5h2M732 952.5h5M1202 952.5h3M1622 952.5h3M737 953.5h4M1200 953.5h2M1620 953.5h2M741 954.5h4M1617 954.5h3M745 955.5h5M1197 955.5h2M1615 955.5h2M750 956.5h4M1195 956.5h2M1612 956.5h3M50 957.5h2M754 957.5h4M1193 957.5h2M1610 957.5h2M758 958.5h5M1190 958.5h3M1607 958.5h3M611 959.5h3M763 959.5h4M1188 959.5h2M1604 959.5h3M614 960.5h7M767 960.5h5M1601 960.5h3M55 961.5h2M621 961.5h7M772 961.5h4M1185 961.5h2M1598 961.5h3M492 962.5h3M628 962.5h7M776 962.5h4M1183 962.5h2M1595 962.5h3M159 963.5h2M489 963.5h3M635 963.5h6M780 963.5h5M1180 963.5h3M1592 963.5h3M59 964.5h2M485 964.5h4M641 964.5h7M785 964.5h4M1178 964.5h2M1589 964.5h3M482 965.5h3M648 965.5h7M789 965.5h4M1176 965.5h2M1586 965.5h3M62 966.5h2M479 966.5h3M655 966.5h7M793 966.5h5M1582 966.5h4M64 967.5h2M164 967.5h2M476 967.5h3M662 967.5h7M798 967.5h4M1173 967.5h2M1579 967.5h3M473 968.5h3M669 968.5h7M802 968.5h5M1171 968.5h2M1576 968.5h3M67 969.5h2M470 969.5h3M676 969.5h7M807 969.5h4M1168 969.5h3M1572 969.5h4M467 970.5h3M683 970.5h6M811 970.5h4M1166 970.5h2M1569 970.5h3M70 971.5h2M169 971.5h2M464 971.5h3M689 971.5h7M815 971.5h5M1164 971.5h2M1565 971.5h4M72 972.5h2M460 972.5h4M696 972.5h7M820 972.5h4M1562 972.5h3M74 973.5h2M457 973.5h3M703 973.5h7M824 973.5h5M1161 973.5h2M1558 973.5h4M76 974.5h2M173 974.5h2M454 974.5h3M710 974.5h6M829 974.5h4M1159 974.5h2M1554 974.5h4M450 975.5h4M716 975.5h7M833 975.5h4M1156 975.5h3M1550 975.5h4M79 976.5h2M447 976.5h3M723 976.5h6M837 976.5h5M1154 976.5h2M1546 976.5h4M81 977.5h2M177 977.5h2M444 977.5h3M729 977.5h7M842 977.5h4M1152 977.5h2M1542 977.5h4M83 978.5h2M440 978.5h4M736 978.5h6M846 978.5h5M1538 978.5h4M85 979.5h2M180 979.5h2M437 979.5h3M742 979.5h7M851 979.5h4M1149 979.5h2M1534 979.5h4M87 980.5h2M433 980.5h4M749 980.5h7M855 980.5h4M1146 980.5h3M1530 980.5h4M89 981.5h3M183 981.5h2M430 981.5h3M756 981.5h6M859 981.5h5M1144 981.5h2M1525 981.5h5M92 982.5h2M426 982.5h4M762 982.5h7M864 982.5h4M1142 982.5h2M1521 982.5h4M94 983.5h2M186 983.5h2M423 983.5h3M769 983.5h6M868 983.5h4M1516 983.5h5M96 984.5h3M420 984.5h3M775 984.5h7M872 984.5h5M1139 984.5h2M1511 984.5h5M99 985.5h2M189 985.5h2M416 985.5h4M782 985.5h7M877 985.5h4M1137 985.5h2M1506 985.5h5M101 986.5h3M191 986.5h2M413 986.5h3M789 986.5h7M881 986.5h5M1134 986.5h3M1501 986.5h5M104 987.5h2M409 987.5h4M796 987.5h6M886 987.5h4M1132 987.5h2M1496 987.5h5M106 988.5h3M194 988.5h2M406 988.5h3M802 988.5h8M890 988.5h5M1130 988.5h2M1491 988.5h5M109 989.5h3M196 989.5h2M402 989.5h4M810 989.5h7M895 989.5h4M1485 989.5h6M112 990.5h2M399 990.5h3M817 990.5h8M899 990.5h4M1127 990.5h2M1480 990.5h5M114 991.5h3M199 991.5h2M395 991.5h4M825 991.5h8M903 991.5h5M1124 991.5h3M1474 991.5h6M117 992.5h3M201 992.5h2M391 992.5h4M833 992.5h7M908 992.5h4M1122 992.5h2M1468 992.5h6M120 993.5h3M203 993.5h2M388 993.5h3M840 993.5h6M912 993.5h4M1120 993.5h2M1462 993.5h6M123 994.5h3M205 994.5h2M384 994.5h4M846 994.5h7M916 994.5h5M1118 994.5h2M1456 994.5h6M126 995.5h3M207 995.5h2M381 995.5h3M853 995.5h7M921 995.5h4M1449 995.5h7M129 996.5h4M209 996.5h2M377 996.5h4M860 996.5h6M925 996.5h5M1115 996.5h2M1443 996.5h6M133 997.5h3M211 997.5h2M374 997.5h3M866 997.5h7M930 997.5h4M1112 997.5h3M1436 997.5h7M136 998.5h3M213 998.5h2M370 998.5h4M873 998.5h7M934 998.5h4M1110 998.5h2M1429 998.5h7M139 999.5h4M215 999.5h3M366 999.5h4M880 999.5h6M938 999.5h5M1108 999.5h2M1422 999.5h7M143 1000.5h3M218 1000.5h2M363 1000.5h3M886 1000.5h7M943 1000.5h4M1106 1000.5h2M1415 1000.5h7M146 1001.5h4M220 1001.5h2M359 1001.5h4M893 1001.5h7M947 1001.5h5M1407 1001.5h8M150 1002.5h3M222 1002.5h2M356 1002.5h3M900 1002.5h6M952 1002.5h4M1102 1002.5h3M1400 1002.5h7M153 1003.5h4M224 1003.5h2M352 1003.5h4M906 1003.5h7M956 1003.5h5M1100 1003.5h2M1392 1003.5h8M157 1004.5h4M226 1004.5h2M348 1004.5h4M913 1004.5h6M961 1004.5h4M1098 1004.5h2M1384 1004.5h8M161 1005.5h4M345 1005.5h3M919 1005.5h7M965 1005.5h4M1096 1005.5h2M1375 1005.5h9M165 1006.5h4M229 1006.5h2M341 1006.5h4M926 1006.5h7M969 1006.5h5M1094 1006.5h2M1367 1006.5h8M169 1007.5h4M231 1007.5h2M338 1007.5h3M933 1007.5h6M974 1007.5h4M1092 1007.5h2M1358 1007.5h9M173 1008.5h4M233 1008.5h2M334 1008.5h4M939 1008.5h7M978 1008.5h4M1090 1008.5h2M1349 1008.5h9M177 1009.5h4M330 1009.5h4M946 1009.5h6M982 1009.5h5M1088 1009.5h2M1339 1009.5h10M181 1010.5h4M236 1010.5h2M327 1010.5h3M952 1010.5h7M987 1010.5h4M1086 1010.5h2M1329 1010.5h10M185 1011.5h5M238 1011.5h2M323 1011.5h4M959 1011.5h7M991 1011.5h5M1084 1011.5h2M1319 1011.5h10M190 1012.5h4M966 1012.5h6M996 1012.5h4M1307 1012.5h12M194 1013.5h5M972 1013.5h7M1000 1013.5h4M1295 1013.5h12M199 1014.5h5M979 1014.5h6M1004 1014.5h5M1283 1014.5h12M204 1015.5h5M985 1015.5h7M1009 1015.5h4M1270 1015.5h13M209 1016.5h5M992 1016.5h6M1013 1016.5h5M1256 1016.5h14M214 1017.5h4M998 1017.5h7M1018 1017.5h4M1241 1017.5h15M218 1018.5h2M1005 1018.5h6M1022 1018.5h4M1226 1018.5h15M1011 1019.5h7M1210 1019.5h16M1018 1020.5h6M1190 1020.5h20M1024 1021.5h2M1169 1021.5h21M1146 1022.5h23M1122 1023.5h24M1095 1024.5h27M1085 1025.5h10"/>
<path d="M5.5 253v625M6.5 237v16M6.5 878v9M7.5 229v8M7.5 887v5M8.5 224v5M8.5 892v5M9.5 220v4M9.5 897v3M10.5 217v3M10.5 900v3M11.5 214v3M11.5 903v3M12.5 212v2M12.5 906v2M13.5 210v2M13.5 908v2M14.5 208v2M14.5 910v2M15.5 206v2M15.5 912v2M16.5 204v2M16.5 914v2M17.5 203v1M17.5 916v2M18.5 201v2M18.5 918v1M19.5 200v1M19.5 919v2M20.5 199v1M20.5 921v2M21.5 198v1M21.5 923v1M22.5 197v1M22.5 924v2M23.5 196v1M23.5 926v1M24.5 195v1M24.5 927v2M25.5 194v1M25.5 929v1M26.5 193v1M26.5 930v2M27.5 192v1M27.5 932v1M28.5 191v1M28.5 933v1M29.5 190v1M29.5 934v1M30.5 189v1M30.5 935v2M31.5 937v1M32.5 938v1M33.5 187v1M33.5 939v1M34.5 940v1M35.5 941v2M36.5 943v1M37.5 944v1M38.5 945v1M39.5 946v1M40.5 947v1M41.5 948v1M42.5 949v1M43.5 950v1M44.5 951v1M45.5 952v1M46.5 953v1M47.5 954v1M48.5 955v1M49.5 956v1M52.5 958v1M53.5 959v1M54.5 960v1M57.5 962v1M58.5 963v1M61.5 965v1M66.5 968v1M69.5 970v1M78.5 975v1M107.5 394v487M108.5 387v7M108.5 881v7M109.5 382v5M109.5 888v5M110.5 377v5M110.5 893v3M111.5 374v3M111.5 896v3M112.5 371v3M112.5 899v3M113.5 369v2M113.5 902v3M114.5 367v2M114.5 905v2M115.5 365v2M115.5 907v3M116.5 364v1M116.5 910v2M117.5 362v2M117.5 912v2M118.5 361v1M118.5 914v1M119.5 360v1M119.5 915v2M120.5 359v1M120.5 917v2M121.5 358v1M121.5 919v2M122.5 357v1M122.5 921v1M123.5 356v1M123.5 922v2M124.5 355v1M124.5 924v1M125.5 354v1M125.5 925v2M126.5 353v1M126.5 927v1M127.5 352v1M127.5 928v2M128.5 351v1M128.5 930v1M129.5 931v1M130.5 932v2M131.5 349v1M131.5 934v1M132.5 348v1M132.5 935v1M133.5 347v1M133.5 936v1M134.5 346v1M134.5 937v1M135.5 345v1M135.5 938v2M136.5 940v1M137.5 941v1M138.5 343v1M138.5 942v1M139.5 342v1M139.5 943v1M140.5 341v1M140.5 944v1M141.5 945v1M142.5 946v1M143.5 339v1M143.5 947v1M144.5 338v1M144.5 948v1M145.5 949v1M146.5 950v1M147.5 336v1M147.5 951v1M148.5 335v1M148.5 952v1M149.5 953v1M150.5 954v1M151.5 333v1M151.5 955v1M152.5 956v1M153.5 957v1M154.5 331v1M154.5 958v1M155.5 330v1M155.5 959v1M156.5 960v1M157.5 961v1M158.5 328v1M158.5 962v1M160.5 299v17M161.5 295v4M161.5 316v6M161.5 964v1M162.5 291v4M162.5 322v3M162.5 965v1M163.5 288v3M163.5 327v2M163.5 966v1M164.5 286v2M164.5 329v3M165.5 284v2M165.5 332v2M166.5 282v2M166.5 323v1M166.5 334v1M166.5 968v1M167.5 280v2M167.5 335v2M167.5 969v1M168.5 278v2M168.5 337v1M168.5 970v1M169.5 276v2M169.5 321v1M169.5 338v2M170.5 274v2M170.5 340v1M171.5 272v2M171.5 341v1M171.5 972v1M172.5 270v2M172.5 342v1M172.5 973v1M173.5 269v1M173.5 343v1M174.5 267v2M174.5 318v1M174.5 344v1M175.5 266v1M175.5 345v1M175.5 975v1M176.5 264v2M176.5 346v1M176.5 976v1M177.5 263v1M177.5 347v1M178.5 261v2M178.5 326v11M178.5 348v1M179.5 260v1M179.5 322v4M179.5 337v3M179.5 978v1M180.5 258v2M180.5 319v3M180.5 340v1M181.5 257v1M181.5 316v3M181.5 341v2M181.5 350v1M182.5 255v2M182.5 315v1M182.5 343v1M182.5 980v1M183.5 254v1M183.5 310v2M183.5 344v1M184.5 253v1M184.5 306v4M184.5 345v1M184.5 352v1M185.5 252v1M185.5 303v3M185.5 346v1M185.5 982v1M186.5 250v2M186.5 300v3M186.5 347v1M187.5 249v1M187.5 297v3M187.5 348v1M187.5 354v1M188.5 248v1M188.5 294v3M188.5 349v1M188.5 984v1M189.5 247v1M189.5 292v2M189.5 350v1M190.5 245v2M190.5 289v3M190.5 351v1M191.5 244v1M191.5 287v2M191.5 352v1M192.5 243v1M192.5 284v3M193.5 242v1M193.5 282v2M193.5 987v1M194.5 241v1M194.5 280v2M194.5 354v1M195.5 239v2M195.5 278v2M196.5 238v1M196.5 276v2M197.5 237v1M197.5 274v2M198.5 236v1M198.5 272v2M198.5 990v1M199.5 235v1M199.5 270v2M200.5 234v1M200.5 269v1M201.5 233v1M201.5 267v2M202.5 232v1M202.5 266v1M203.5 231v1M203.5 264v2M204.5 230v1M204.5 263v1M205.5 229v1M205.5 261v2M206.5 228v1M206.5 260v1M207.5 227v1M207.5 259v1M208.5 226v1M208.5 258v1M209.5 225v1M209.5 257v1M210.5 224v1M210.5 256v1M211.5 223v1M211.5 255v1M212.5 222v1M212.5 254v1M213.5 221v1M213.5 253v1M214.5 220v1M214.5 252v1M215.5 219v1M215.5 251v1M216.5 218v1M216.5 250v1M217.5 217v1M217.5 249v1M218.5 216v1M218.5 248v1M219.5 215v1M219.5 247v1M220.5 214v1M220.5 246v1M221.5 213v1M221.5 245v1M222.5 212v1M222.5 244v1M223.5 211v1M223.5 243v1M224.5 210v1M224.5 242v1M225.5 209v1M226.5 208v1M227.5 207v1M227.5 240v1M228.5 206v1M228.5 239v1M228.5 1005v1M229.5 205v1M230.5 204v1M231.5 237v1M232.5 236v1M233.5 202v1M234.5 201v1M235.5 200v1M235.5 1009v1M237.5 233v1M238.5 198v1M240.5 1012v1M241.5 196v1M246.5 193v1M248.5 227v1M268.5 947v15M269.5 934v13M269.5 962v15M270.5 925v9M270.5 977v15M271.5 919v6M271.5 992v10M272.5 914v5M272.5 1002v10M273.5 910v4M273.5 1012v1M274.5 906v4M275.5 902v4M276.5 899v3M277.5 895v4M278.5 892v3M279.5 890v2M280.5 887v3M281.5 885v2M282.5 882v3M283.5 880v2M284.5 878v2M285.5 876v2M285.5 1011v2M286.5 874v2M286.5 1010v1M287.5 872v2M287.5 1008v2M288.5 870v2M288.5 1007v1M289.5 470v1M289.5 868v2M289.5 1005v2M290.5 469v1M290.5 867v1M290.5 1004v1M291.5 865v2M291.5 1002v2M292.5 864v1M292.5 1001v1M293.5 863v1M293.5 999v2M294.5 862v1M294.5 998v1M295.5 861v1M295.5 996v2M296.5 860v1M296.5 995v1M297.5 859v1M297.5 993v2M298.5 858v1M298.5 992v1M299.5 464v1M299.5 857v1M299.5 990v2M300.5 856v1M300.5 989v1M301.5 855v1M301.5 987v2M302.5 986v1M303.5 984v2M304.5 853v1M304.5 983v1M305.5 316v1M305.5 981v2M306.5 980v1M307.5 978v2M308.5 977v1M309.5 975v2M310.5 974v1M311.5 972v2M312.5 457v1M312.5 971v1M313.5 969v2M314.5 968v1M315.5 967v1M316.5 965v2M317.5 963v2M318.5 962v1M319.5 960v2M320.5 959v1M321.5 958v1M322.5 956v2M322.5 1012v1M323.5 954v2M324.5 953v1M325.5 450v1M325.5 952v1M326.5 950v2M327.5 949v1M328.5 947v2M329.5 946v1M330.5 944v2M331.5 943v1M332.5 941v2M333.5 940v1M334.5 938v2M335.5 937v1M336.5 444v1M336.5 935v2M337.5 934v1M338.5 932v2M339.5 931v1M340.5 929v2M341.5 928v1M342.5 926v2M343.5 925v1M344.5 923v2M345.5 922v1M346.5 920v2M347.5 919v1M348.5 917v2M349.5 916v1M350.5 914v2M351.5 436v1M351.5 913v1M352.5 911v2M353.5 910v1M354.5 908v2M355.5 907v1M356.5 905v2M357.5 904v1M358.5 902v2M359.5 901v1M360.5 899v2M361.5 898v1M362.5 430v1M362.5 896v2M363.5 895v1M364.5 893v2M365.5 892v1M366.5 890v2M367.5 889v1M368.5 887v2M369.5 886v1M370.5 885v1M371.5 884v1M375.5 423v1M378.5 421v1M379.5 420v1M391.5 856v2M392.5 855v1M393.5 854v1M394.5 852v2M395.5 851v1M396.5 850v1M397.5 849v1M398.5 848v1M399.5 847v1M400.5 262v1M400.5 845v2M401.5 844v1M402.5 842v2M403.5 841v1M404.5 840v1M405.5 259v1M405.5 420v52M405.5 839v1M406.5 838v1M407.5 836v2M408.5 257v1M408.5 835v1M408.5 884v1M409.5 834v1M409.5 885v1M410.5 832v2M411.5 255v1M411.5 831v1M412.5 254v1M412.5 830v1M414.5 827v1M415.5 252v1M415.5 826v1M416.5 825v1M417.5 316v1M417.5 824v1M418.5 823v1M419.5 821v2M420.5 820v1M421.5 819v1M422.5 248v1M422.5 818v1M423.5 816v2M424.5 815v1M425.5 814v1M426.5 813v1M427.5 811v2M428.5 810v1M429.5 809v1M430.5 808v1M431.5 807v1M439.5 884v1M447.5 778v3M448.5 775v3M449.5 773v2M450.5 770v3M451.5 768v2M452.5 764v4M453.5 762v2M454.5 759v3M455.5 756v3M456.5 753v3M457.5 751v2M458.5 748v3M459.5 745v3M460.5 743v2M461.5 740v3M462.5 737v3M463.5 735v2M464.5 732v3M465.5 730v2M466.5 727v3M467.5 725v2M468.5 722v3M469.5 720v2M470.5 717v3M471.5 715v2M472.5 713v2M473.5 710v3M474.5 708v2M475.5 705v3M476.5 703v2M477.5 701v2M478.5 698v3M479.5 696v2M480.5 694v2M481.5 691v3M482.5 689v2M483.5 687v2M484.5 685v2M485.5 683v2M486.5 681v2M487.5 679v2M488.5 677v2M489.5 675v2M490.5 673v2M491.5 672v1M492.5 670v2M493.5 668v2M494.5 666v2M495.5 665v1M495.5 961v1M496.5 663v2M497.5 661v2M498.5 265v1M498.5 660v1M499.5 658v2M500.5 657v1M501.5 327v27M501.5 655v2M502.5 320v7M502.5 354v8M502.5 653v2M503.5 315v5M503.5 362v5M503.5 652v1M504.5 311v4M504.5 367v5M504.5 650v2M505.5 308v3M505.5 372v4M505.5 649v1M506.5 306v2M506.5 376v5M506.5 647v2M507.5 303v3M507.5 381v1M507.5 646v1M508.5 301v2M508.5 384v4M508.5 645v1M509.5 299v2M509.5 388v4M509.5 643v2M510.5 297v2M510.5 392v2M510.5 642v1M511.5 295v2M511.5 640v2M512.5 294v1M512.5 639v1M513.5 292v2M513.5 638v1M513.5 935v1M514.5 291v1M514.5 637v1M515.5 289v2M515.5 420v8M515.5 429v2M515.5 635v2M516.5 288v1M516.5 431v10M516.5 634v1M517.5 286v2M517.5 441v10M517.5 633v1M518.5 285v1M518.5 451v8M518.5 632v1M519.5 284v1M519.5 459v7M519.5 630v2M520.5 283v1M520.5 466v7M520.5 629v1M521.5 266v1M521.5 282v1M521.5 473v5M521.5 628v1M522.5 265v1M522.5 281v1M522.5 478v5M522.5 627v1M523.5 280v1M523.5 483v4M523.5 626v1M524.5 279v1M524.5 487v4M524.5 625v1M525.5 278v1M525.5 491v4M525.5 624v1M526.5 277v1M526.5 495v4M526.5 623v1M527.5 276v1M527.5 499v3M527.5 622v1M528.5 275v1M528.5 502v4M528.5 621v1M529.5 274v1M529.5 506v3M529.5 620v1M530.5 273v1M530.5 509v4M530.5 619v1M531.5 272v1M531.5 513v3M531.5 618v1M532.5 271v1M532.5 516v4M532.5 617v1M533.5 270v1M533.5 520v3M533.5 616v1M534.5 269v1M534.5 523v4M534.5 615v1M535.5 268v1M535.5 527v3M535.5 614v1M536.5 267v1M536.5 530v3M537.5 266v1M537.5 533v3M538.5 265v1M538.5 536v3M538.5 612v1M539.5 539v3M539.5 611v1M540.5 542v3M540.5 610v1M541.5 545v3M541.5 609v1M542.5 548v3M542.5 608v1M543.5 551v3M543.5 607v1M544.5 554v2M544.5 606v1M545.5 556v3M545.5 605v1M546.5 559v2M546.5 604v1M547.5 561v3M548.5 564v2M549.5 566v3M549.5 602v1M550.5 569v2M550.5 601v1M551.5 571v2M551.5 600v1M552.5 573v2M552.5 599v1M553.5 575v2M553.5 598v1M554.5 577v2M555.5 579v2M556.5 396v1M556.5 419v1M556.5 581v2M556.5 596v1M557.5 583v1M557.5 595v1M558.5 584v2M558.5 594v1M559.5 586v1M559.5 593v1M560.5 587v1M561.5 588v2M562.5 265v2M563.5 267v2M564.5 269v1M564.5 589v1M564.5 592v1M565.5 270v2M565.5 593v1M566.5 272v1M566.5 594v1M567.5 273v2M567.5 587v1M567.5 595v1M568.5 275v2M568.5 586v1M568.5 596v1M569.5 277v1M569.5 597v1M570.5 278v2M570.5 598v1M571.5 280v1M571.5 584v1M571.5 599v1M572.5 281v2M572.5 583v1M572.5 600v1M573.5 283v2M573.5 601v1M574.5 285v1M574.5 602v1M575.5 286v2M575.5 581v1M575.5 603v1M576.5 288v1M576.5 604v1M577.5 289v2M577.5 605v1M578.5 291v2M578.5 579v1M578.5 606v2M579.5 293v1M579.5 608v1M580.5 294v2M580.5 609v1M581.5 296v1M581.5 577v1M581.5 610v1M582.5 297v2M582.5 611v1M583.5 299v2M583.5 612v1M584.5 301v1M584.5 575v1M584.5 613v1M585.5 302v2M585.5 614v1M586.5 304v2M586.5 615v1M587.5 306v1M587.5 616v1M588.5 307v2M588.5 617v1M589.5 309v1M589.5 572v1M589.5 618v1M590.5 310v2M590.5 619v1M591.5 312v2M591.5 620v1M592.5 314v1M592.5 570v1M592.5 621v1M593.5 315v1M593.5 622v1M594.5 623v1M597.5 567v1M600.5 565v1M605.5 562v1M610.5 559v1M613.5 557v1M618.5 554v1M623.5 551v1M628.5 548v1M628.5 652v1M629.5 653v1M630.5 654v1M631.5 655v1M632.5 656v1M633.5 657v1M634.5 658v1M635.5 659v1M636.5 660v1M637.5 543v1M637.5 661v1M638.5 662v1M639.5 663v1M640.5 664v1M641.5 527v13M641.5 542v4M641.5 665v1M642.5 522v5M642.5 546v5M642.5 666v1M643.5 519v3M643.5 551v4M643.5 667v2M644.5 516v3M644.5 555v4M644.5 669v1M645.5 513v3M645.5 559v3M645.5 670v1M646.5 511v2M646.5 562v4M646.5 671v1M647.5 508v3M647.5 566v4M647.5 672v1M648.5 242v1M648.5 506v2M648.5 570v4M648.5 673v1M649.5 505v1M649.5 574v3M649.5 674v1M650.5 503v2M650.5 536v1M650.5 577v3M650.5 675v1M651.5 501v2M651.5 580v2M651.5 676v1M652.5 500v1M652.5 582v1M652.5 677v1M653.5 498v2M653.5 583v1M653.5 678v1M654.5 497v1M654.5 584v2M654.5 679v1M655.5 496v1M655.5 586v1M655.5 680v1M656.5 495v1M656.5 587v1M656.5 681v1M657.5 494v1M657.5 588v1M657.5 682v1M658.5 493v1M658.5 589v1M658.5 683v1M659.5 492v1M659.5 590v1M659.5 684v1M660.5 491v1M660.5 591v1M660.5 685v1M661.5 490v1M661.5 592v1M661.5 686v1M662.5 489v1M662.5 593v1M662.5 687v1M663.5 594v1M663.5 688v1M664.5 689v1M665.5 487v1M665.5 690v1M666.5 486v1M666.5 596v1M666.5 691v1M667.5 485v1M667.5 597v1M667.5 692v1M668.5 484v1M668.5 693v1M669.5 483v1M669.5 694v1M670.5 482v1M670.5 599v1M670.5 695v1M671.5 481v1M671.5 600v1M671.5 696v1M672.5 480v1M672.5 697v1M673.5 479v1M673.5 698v1M674.5 478v1M674.5 602v1M674.5 699v1M675.5 477v1M675.5 700v1M676.5 476v1M676.5 701v1M677.5 475v1M677.5 604v1M677.5 702v1M678.5 474v1M678.5 703v1M679.5 473v1M679.5 704v1M680.5 472v1M680.5 705v1M681.5 471v1M681.5 706v1M682.5 707v1M683.5 708v1M684.5 469v1M684.5 608v1M684.5 709v1M685.5 710v1M686.5 711v1M687.5 610v1M687.5 712v1M688.5 713v1M689.5 714v1M690.5 612v1M690.5 715v1M691.5 613v1M691.5 716v1M692.5 717v1M693.5 718v1M694.5 615v1M694.5 719v1M695.5 616v1M695.5 720v1M696.5 617v1M696.5 721v1M697.5 618v1M697.5 722v1M698.5 619v1M698.5 723v1M699.5 620v2M699.5 724v1M700.5 622v1M700.5 725v1M701.5 623v2M701.5 726v1M702.5 625v1M702.5 727v1M703.5 728v1M704.5 628v2M704.5 729v1M705.5 630v1M705.5 730v1M706.5 631v2M706.5 731v1M707.5 633v2M707.5 732v1M708.5 635v2M708.5 733v1M709.5 637v2M709.5 734v1M710.5 639v2M710.5 735v1M711.5 641v2M711.5 736v1M712.5 643v2M712.5 737v1M713.5 645v2M713.5 738v1M714.5 647v2M714.5 739v1M715.5 649v3M715.5 740v1M716.5 652v2M716.5 741v1M717.5 654v2M717.5 742v1M718.5 656v2M718.5 743v2M719.5 658v2M719.5 745v1M720.5 660v2M720.5 746v1M721.5 662v2M721.5 747v1M722.5 664v2M722.5 748v1M723.5 666v3M723.5 749v1M724.5 669v2M724.5 750v1M725.5 671v2M725.5 751v1M726.5 673v3M726.5 752v1M727.5 676v2M727.5 753v1M728.5 678v2M728.5 754v1M729.5 680v3M729.5 755v1M730.5 683v2M730.5 756v1M731.5 685v2M731.5 757v1M732.5 687v3M732.5 758v1M733.5 471v1M733.5 690v2M733.5 759v1M734.5 692v3M734.5 760v1M735.5 695v2M735.5 761v1M735.5 807v1M736.5 697v2M736.5 762v1M737.5 546v2M737.5 699v3M737.5 763v1M738.5 545v1M738.5 702v2M738.5 764v1M739.5 544v1M739.5 704v3M739.5 765v1M740.5 542v2M740.5 707v2M740.5 766v1M741.5 541v1M741.5 709v2M741.5 767v1M742.5 539v2M742.5 711v3M742.5 768v1M743.5 538v1M743.5 714v2M743.5 769v1M744.5 537v1M744.5 716v3M744.5 770v1M745.5 535v2M745.5 719v2M745.5 771v1M746.5 533v2M746.5 721v2M746.5 772v1M747.5 532v1M747.5 723v2M747.5 773v1M748.5 530v2M748.5 725v3M748.5 774v1M749.5 529v1M749.5 728v2M749.5 775v1M750.5 527v2M750.5 730v3M750.5 776v1M751.5 526v1M751.5 733v2M751.5 777v1M752.5 524v2M752.5 735v3M752.5 778v1M753.5 523v1M753.5 738v2M753.5 779v2M754.5 521v2M754.5 740v3M755.5 520v1M755.5 743v4M756.5 518v2M756.5 747v4M757.5 517v1M757.5 751v4M758.5 515v2M758.5 755v4M759.5 514v1M759.5 759v4M760.5 512v2M760.5 763v3M761.5 511v1M761.5 766v4M762.5 509v2M762.5 770v4M763.5 508v1M763.5 774v4M764.5 506v2M764.5 778v3M765.5 505v1M766.5 504v1M767.5 502v2M767.5 807v51M768.5 501v1M769.5 499v2M769.5 778v3M770.5 498v1M770.5 774v4M771.5 770v4M772.5 767v3M773.5 763v4M774.5 760v3M775.5 757v3M776.5 754v3M777.5 750v4M778.5 747v3M779.5 744v3M780.5 741v3M781.5 738v3M782.5 735v3M783.5 732v3M784.5 729v3M785.5 726v3M786.5 498v1M786.5 724v2M787.5 499v3M787.5 722v2M788.5 502v2M788.5 719v3M789.5 504v2M789.5 717v2M790.5 506v3M790.5 715v2M790.5 779v1M791.5 509v2M791.5 712v3M792.5 511v3M792.5 711v1M793.5 514v2M793.5 708v3M793.5 777v1M794.5 516v3M794.5 706v2M795.5 519v2M795.5 704v2M796.5 521v3M796.5 702v2M797.5 524v2M797.5 700v2M798.5 526v2M798.5 699v1M798.5 774v1M799.5 528v2M799.5 697v2M799.5 807v1M800.5 530v3M800.5 695v2M801.5 533v2M801.5 693v2M802.5 535v2M802.5 691v2M803.5 537v2M803.5 690v1M804.5 539v2M804.5 688v2M805.5 541v2M805.5 686v2M805.5 770v1M806.5 543v2M806.5 684v2M807.5 545v3M807.5 683v1M808.5 548v2M808.5 681v2M809.5 550v1M809.5 679v2M810.5 551v2M810.5 678v1M810.5 767v1M811.5 498v1M811.5 553v2M811.5 676v2M812.5 555v2M812.5 675v1M813.5 557v2M813.5 673v2M813.5 765v1M814.5 559v2M814.5 672v1M815.5 561v2M815.5 670v2M816.5 563v2M816.5 669v1M817.5 565v1M817.5 668v1M818.5 566v2M818.5 666v2M818.5 762v1M818.5 817v1M819.5 568v2M819.5 665v1M820.5 570v2M820.5 663v2M821.5 572v2M821.5 662v1M822.5 574v2M822.5 661v1M823.5 576v2M823.5 659v2M823.5 759v1M824.5 310v1M824.5 578v2M824.5 658v1M825.5 580v2M825.5 657v1M826.5 582v2M826.5 656v1M826.5 757v1M827.5 584v3M827.5 655v1M827.5 822v1M828.5 587v2M828.5 653v2M829.5 589v2M829.5 652v1M830.5 591v2M830.5 651v1M831.5 593v2M831.5 650v1M831.5 754v1M832.5 595v2M832.5 649v1M833.5 597v3M833.5 648v1M834.5 600v2M834.5 647v1M834.5 752v1M834.5 826v1M835.5 602v2M835.5 646v1M836.5 604v2M836.5 645v1M837.5 644v1M837.5 750v1M837.5 828v1M838.5 608v3M838.5 643v1M839.5 611v2M839.5 642v1M839.5 826v1M840.5 613v2M840.5 641v1M841.5 615v2M841.5 640v1M842.5 617v2M842.5 639v1M842.5 747v1M842.5 831v1M843.5 619v2M843.5 638v1M844.5 621v3M844.5 637v1M845.5 624v2M845.5 636v1M845.5 745v1M845.5 833v1M846.5 626v2M846.5 635v1M847.5 628v2M847.5 634v1M848.5 630v2M848.5 743v1M848.5 831v1M848.5 835v1M849.5 632v1M850.5 631v1M850.5 634v2M851.5 630v1M851.5 636v2M851.5 741v1M851.5 837v1M852.5 629v1M852.5 638v2M852.5 838v1M853.5 628v1M853.5 640v2M853.5 834v1M853.5 839v1M853.5 895v1M854.5 627v1M854.5 642v3M854.5 739v1M854.5 840v1M855.5 626v1M855.5 645v2M856.5 647v2M856.5 893v1M857.5 649v2M857.5 842v1M858.5 624v1M858.5 651v2M858.5 837v1M858.5 843v1M859.5 653v2M859.5 736v1M859.5 844v1M859.5 891v1M860.5 655v2M860.5 845v1M860.5 890v1M861.5 657v2M861.5 839v1M861.5 846v1M861.5 889v1M862.5 659v2M862.5 734v1M862.5 847v1M862.5 888v1M863.5 661v2M863.5 848v1M863.5 887v1M864.5 663v2M864.5 849v2M864.5 886v1M865.5 665v2M865.5 732v1M865.5 851v2M865.5 884v2M866.5 667v2M866.5 842v1M866.5 853v1M866.5 883v1M867.5 669v2M867.5 854v2M867.5 881v2M868.5 671v2M868.5 730v1M868.5 856v3M868.5 879v2M869.5 673v2M869.5 729v1M869.5 844v1M869.5 859v2M869.5 876v3M870.5 675v2M870.5 861v5M870.5 872v4M871.5 677v2M871.5 866v6M872.5 679v2M872.5 846v1M873.5 681v2M874.5 683v2M875.5 685v2M875.5 848v1M876.5 687v2M877.5 689v2M878.5 691v2M878.5 850v1M879.5 693v2M880.5 695v2M881.5 697v2M881.5 852v1M882.5 84v1M882.5 699v2M882.5 853v1M883.5 83v1M883.5 701v3M884.5 82v1M885.5 81v1M885.5 855v1M886.5 80v1M887.5 79v1M888.5 78v1M888.5 857v1M889.5 77v1M889.5 858v1M890.5 76v1M891.5 75v1M891.5 265v1M892.5 111v1M892.5 860v1M893.5 861v1M894.5 73v1M895.5 72v1M895.5 113v1M896.5 71v1M896.5 863v1M897.5 70v1M897.5 864v1M898.5 69v1M898.5 865v1M899.5 68v1M901.5 867v1M902.5 66v1M902.5 868v1M903.5 65v1M903.5 869v1M904.5 64v1M904.5 729v1M905.5 63v1M905.5 730v1M906.5 62v1M906.5 731v1M906.5 871v1M907.5 61v1M907.5 732v1M907.5 872v1M908.5 60v1M908.5 733v1M908.5 873v1M909.5 59v1M909.5 734v1M909.5 874v1M910.5 58v1M910.5 121v1M910.5 735v1M910.5 875v1M911.5 736v1M912.5 737v1M913.5 56v1M913.5 738v1M913.5 877v1M914.5 55v1M914.5 739v1M914.5 878v1M915.5 54v1M915.5 740v1M915.5 879v1M916.5 53v1M916.5 741v1M916.5 880v1M917.5 52v1M917.5 742v1M917.5 881v1M918.5 51v1M918.5 743v1M919.5 50v1M919.5 744v1M920.5 49v1M920.5 745v1M920.5 883v1M921.5 48v1M921.5 746v1M921.5 884v1M922.5 47v1M922.5 265v1M922.5 747v1M922.5 885v1M923.5 46v1M923.5 128v1M923.5 748v1M923.5 886v1M924.5 45v1M924.5 749v1M924.5 887v1M925.5 44v1M925.5 750v1M925.5 888v1M926.5 43v1M926.5 751v1M926.5 889v1M927.5 42v1M927.5 752v1M928.5 41v1M928.5 753v1M929.5 40v1M929.5 754v1M929.5 891v1M930.5 755v1M930.5 892v1M931.5 756v1M931.5 893v1M932.5 38v1M932.5 894v1M933.5 37v1M933.5 758v1M933.5 895v1M934.5 36v1M934.5 759v1M934.5 896v1M935.5 35v1M935.5 760v1M935.5 897v1M936.5 34v1M936.5 761v1M936.5 898v1M937.5 33v1M937.5 762v1M937.5 899v1M938.5 136v1M938.5 763v1M939.5 764v1M940.5 765v1M940.5 901v1M941.5 766v1M941.5 902v1M942.5 767v1M942.5 903v1M943.5 768v1M943.5 904v1M944.5 769v1M944.5 905v1M945.5 770v1M945.5 906v1M946.5 771v1M946.5 907v1M947.5 772v1M947.5 908v1M948.5 773v1M948.5 909v1M949.5 774v1M949.5 910v1M950.5 775v1M950.5 911v1M951.5 912v1M952.5 913v1M953.5 265v52M953.5 777v1M953.5 914v1M954.5 778v1M954.5 915v1M955.5 145v1M955.5 779v1M955.5 916v1M956.5 780v1M956.5 917v1M957.5 781v1M957.5 918v1M958.5 782v1M958.5 919v1M959.5 920v1M960.5 921v1M961.5 784v1M961.5 922v1M962.5 785v1M962.5 923v1M963.5 786v1M963.5 924v1M964.5 787v1M964.5 925v1M965.5 788v1M965.5 926v1M966.5 789v1M966.5 927v1M967.5 33v1M967.5 928v1M968.5 34v1M968.5 152v1M968.5 929v1M969.5 35v1M969.5 791v1M969.5 930v1M970.5 36v1M970.5 792v1M970.5 931v1M971.5 37v1M971.5 793v1M971.5 932v1M972.5 38v1M972.5 794v1M972.5 933v1M973.5 39v1M973.5 795v1M973.5 934v1M974.5 40v1M974.5 796v1M974.5 935v1M975.5 41v1M975.5 797v1M975.5 936v1M976.5 798v1M976.5 937v1M977.5 938v1M978.5 43v1M978.5 939v1M979.5 44v1M979.5 800v1M979.5 940v1M980.5 45v1M980.5 265v1M980.5 801v1M980.5 941v1M981.5 46v1M981.5 802v1M981.5 942v1M982.5 47v1M982.5 803v1M982.5 943v1M983.5 48v1M983.5 267v1M983.5 804v1M983.5 944v1M984.5 49v1M984.5 805v1M984.5 945v1M985.5 50v1M985.5 161v1M985.5 806v1M985.5 946v1M986.5 51v1M986.5 807v1M986.5 947v1M987.5 808v1M987.5 948v1M988.5 809v1M988.5 949v1M989.5 53v1M989.5 270v1M989.5 810v1M989.5 950v1M990.5 54v1M990.5 811v1M990.5 951v1M991.5 55v1M991.5 812v1M991.5 952v1M992.5 56v1M992.5 813v1M992.5 953v1M993.5 57v1M993.5 954v1M994.5 58v1M994.5 955v1M995.5 59v1M995.5 815v1M995.5 956v1M996.5 60v1M996.5 816v1M996.5 957v2M997.5 61v1M997.5 817v1M997.5 959v1M998.5 168v1M998.5 818v1M998.5 960v1M999.5 819v1M999.5 961v1M1000.5 63v1M1000.5 820v1M1000.5 962v1M1001.5 64v1M1001.5 821v1M1001.5 963v1M1002.5 65v1M1002.5 822v1M1002.5 964v1M1003.5 66v1M1003.5 823v1M1003.5 965v2M1004.5 67v1M1004.5 824v1M1004.5 967v1M1005.5 68v1M1005.5 825v1M1005.5 968v1M1006.5 69v1M1006.5 826v1M1006.5 969v1M1007.5 70v1M1007.5 827v1M1007.5 970v1M1008.5 71v1M1008.5 828v1M1008.5 971v1M1009.5 72v1M1009.5 972v1M1010.5 973v2M1011.5 830v1M1011.5 975v1M1012.5 74v1M1012.5 831v1M1012.5 976v1M1013.5 75v1M1013.5 176v1M1013.5 832v1M1013.5 977v1M1014.5 76v1M1014.5 265v1M1014.5 833v1M1014.5 978v1M1015.5 77v1M1015.5 238v1M1015.5 834v1M1015.5 979v1M1016.5 78v1M1016.5 835v1M1016.5 980v2M1017.5 79v1M1017.5 836v1M1017.5 982v1M1018.5 80v1M1018.5 837v1M1018.5 983v1M1019.5 81v1M1019.5 838v1M1019.5 984v1M1020.5 839v1M1020.5 985v1M1021.5 840v1M1021.5 986v1M1022.5 83v1M1022.5 841v1M1022.5 987v1M1023.5 84v1M1023.5 842v1M1023.5 988v2M1024.5 288v1M1024.5 843v1M1024.5 990v1M1025.5 844v1M1025.5 991v1M1026.5 183v1M1026.5 845v1M1026.5 992v1M1027.5 993v1M1028.5 994v1M1029.5 847v1M1029.5 995v1M1030.5 848v1M1030.5 996v1M1031.5 849v1M1031.5 997v1M1032.5 850v1M1032.5 998v1M1033.5 851v1M1033.5 999v1M1034.5 852v1M1034.5 1000v2M1035.5 853v1M1035.5 1002v1M1036.5 854v1M1036.5 1003v1M1037.5 855v1M1037.5 1004v1M1038.5 856v1M1038.5 1005v1M1039.5 857v1M1039.5 1006v1M1040.5 1007v1M1041.5 1008v1M1042.5 1009v1M1043.5 192v1M1043.5 1010v1M1044.5 1011v2M1061.5 307v1M1062.5 574v1M1062.5 652v1M1063.5 653v1M1064.5 654v1M1065.5 655v1M1066.5 624v1M1066.5 656v1M1067.5 623v1M1067.5 657v1M1067.5 1011v2M1068.5 622v1M1068.5 658v1M1068.5 1010v1M1069.5 621v1M1069.5 659v1M1069.5 1009v1M1070.5 660v1M1070.5 1007v2M1071.5 661v2M1071.5 1006v1M1072.5 619v1M1072.5 663v1M1072.5 1005v1M1073.5 208v1M1073.5 618v1M1073.5 664v1M1073.5 1004v1M1074.5 617v1M1074.5 665v1M1074.5 1003v1M1075.5 616v1M1075.5 666v1M1075.5 1002v1M1076.5 615v1M1076.5 667v1M1076.5 1000v2M1077.5 614v1M1077.5 668v1M1077.5 999v1M1078.5 613v1M1078.5 669v1M1078.5 998v1M1079.5 612v1M1079.5 670v2M1079.5 996v2M1080.5 611v1M1080.5 672v1M1080.5 995v1M1081.5 610v1M1081.5 673v1M1081.5 994v1M1082.5 609v1M1082.5 674v1M1082.5 993v1M1083.5 608v1M1083.5 675v1M1083.5 992v1M1083.5 1012v1M1084.5 607v1M1084.5 676v2M1084.5 990v2M1085.5 606v1M1085.5 678v1M1085.5 989v1M1086.5 215v1M1086.5 605v1M1086.5 679v1M1086.5 988v1M1087.5 604v1M1087.5 680v2M1087.5 987v1M1088.5 603v1M1088.5 682v1M1088.5 985v2M1089.5 602v1M1089.5 683v1M1089.5 984v1M1090.5 601v1M1090.5 684v2M1090.5 983v1M1091.5 600v1M1091.5 686v1M1091.5 982v1M1092.5 575v1M1092.5 599v1M1092.5 687v2M1092.5 981v1M1093.5 598v1M1093.5 689v1M1093.5 979v2M1094.5 690v2M1094.5 978v1M1095.5 692v1M1095.5 977v1M1096.5 596v1M1096.5 693v2M1096.5 976v1M1097.5 595v1M1097.5 695v1M1097.5 975v1M1098.5 594v1M1098.5 696v2M1098.5 973v2M1099.5 593v1M1099.5 698v1M1099.5 972v1M1100.5 592v1M1100.5 699v2M1100.5 971v1M1101.5 223v1M1101.5 591v1M1101.5 701v1M1101.5 970v1M1102.5 590v1M1102.5 702v2M1102.5 969v1M1103.5 589v1M1103.5 968v1M1104.5 588v1M1104.5 966v2M1105.5 587v1M1105.5 965v1M1105.5 1001v1M1106.5 586v1M1106.5 963v2M1107.5 585v1M1107.5 962v1M1108.5 584v1M1108.5 960v2M1109.5 583v1M1109.5 958v2M1110.5 582v1M1110.5 957v1M1111.5 581v1M1111.5 955v2M1112.5 580v1M1112.5 953v2M1113.5 579v1M1113.5 952v1M1114.5 578v1M1114.5 950v2M1115.5 577v1M1115.5 948v2M1116.5 576v1M1116.5 947v1M1117.5 575v1M1117.5 945v2M1117.5 995v1M1118.5 232v1M1118.5 943v2M1119.5 942v1M1120.5 729v3M1120.5 940v2M1121.5 701v3M1121.5 732v2M1121.5 938v2M1122.5 699v2M1122.5 734v2M1122.5 936v2M1123.5 697v2M1123.5 736v3M1123.5 934v2M1124.5 695v2M1124.5 739v2M1124.5 932v2M1125.5 692v3M1125.5 741v3M1125.5 931v1M1126.5 691v1M1126.5 744v2M1126.5 929v2M1127.5 688v3M1127.5 746v2M1127.5 926v3M1128.5 686v2M1128.5 748v3M1128.5 925v1M1129.5 683v3M1129.5 751v2M1129.5 922v3M1129.5 989v1M1130.5 681v2M1130.5 753v3M1130.5 920v2M1131.5 678v3M1131.5 756v3M1131.5 918v2M1132.5 676v2M1132.5 759v2M1132.5 915v3M1133.5 240v1M1133.5 673v3M1133.5 761v3M1133.5 913v2M1134.5 575v2M1134.5 670v3M1134.5 764v3M1134.5 911v2M1135.5 577v4M1135.5 666v4M1135.5 767v2M1135.5 908v3M1136.5 581v4M1136.5 662v4M1136.5 769v3M1136.5 906v2M1137.5 585v4M1137.5 658v4M1137.5 772v3M1137.5 903v3M1138.5 589v4M1138.5 654v4M1138.5 775v3M1138.5 900v3M1139.5 593v6M1139.5 649v5M1139.5 778v3M1139.5 897v3M1140.5 599v8M1140.5 643v6M1140.5 781v3M1140.5 895v2M1141.5 607v16M1141.5 630v13M1141.5 784v4M1141.5 892v3M1141.5 983v1M1142.5 623v7M1142.5 788v3M1142.5 888v4M1143.5 791v4M1143.5 885v3M1144.5 795v5M1144.5 881v4M1145.5 800v4M1145.5 877v4M1146.5 247v1M1146.5 804v5M1146.5 873v4M1147.5 809v6M1147.5 868v5M1148.5 815v6M1148.5 861v7M1149.5 821v15M1149.5 847v14M1150.5 836v11M1151.5 978v1M1157.5 575v1M1159.5 254v1M1163.5 972v1M1168.5 581v1M1169.5 342v1M1170.5 341v1M1171.5 340v1M1172.5 339v1M1173.5 338v1M1174.5 337v1M1175.5 266v8M1175.5 335v2M1175.5 966v1M1176.5 258v4M1176.5 263v1M1176.5 265v1M1176.5 274v9M1176.5 333v2M1177.5 254v4M1177.5 283v5M1177.5 331v2M1178.5 250v4M1178.5 288v4M1178.5 328v3M1179.5 247v3M1179.5 292v5M1179.5 325v3M1180.5 244v3M1180.5 297v5M1180.5 304v2M1180.5 320v5M1181.5 242v2M1181.5 306v14M1182.5 240v2M1183.5 239v1M1184.5 238v1M1185.5 237v1M1186.5 236v1M1187.5 235v1M1187.5 960v1M1188.5 234v1M1189.5 233v1M1190.5 232v1M1191.5 231v1M1191.5 271v1M1191.5 593v1M1192.5 230v1M1192.5 243v16M1193.5 229v1M1193.5 240v3M1193.5 259v3M1194.5 228v1M1194.5 237v3M1194.5 262v3M1195.5 227v1M1195.5 234v3M1195.5 265v2M1195.5 595v1M1196.5 226v1M1196.5 232v2M1196.5 267v2M1197.5 225v1M1197.5 231v1M1197.5 269v2M1198.5 224v1M1198.5 230v1M1198.5 271v1M1199.5 223v1M1199.5 229v1M1199.5 272v2M1199.5 954v1M1200.5 222v1M1200.5 228v1M1200.5 274v1M1201.5 221v1M1201.5 227v1M1201.5 275v1M1202.5 220v1M1202.5 226v1M1203.5 225v1M1204.5 224v1M1204.5 280v1M1205.5 218v1M1205.5 223v1M1205.5 281v1M1206.5 217v1M1206.5 222v1M1206.5 282v1M1207.5 216v1M1207.5 221v1M1207.5 283v1M1208.5 220v1M1208.5 284v1M1209.5 219v1M1209.5 285v1M1210.5 214v1M1210.5 218v1M1210.5 286v1M1211.5 213v1M1211.5 287v1M1211.5 948v1M1212.5 183v1M1212.5 288v1M1213.5 216v1M1213.5 289v1M1214.5 211v1M1214.5 215v1M1214.5 290v1M1215.5 210v1M1217.5 213v1M1217.5 285v1M1218.5 208v1M1218.5 212v1M1219.5 207v1M1219.5 293v1M1221.5 210v1M1221.5 943v1M1222.5 205v1M1224.5 208v1M1224.5 610v1M1225.5 207v1M1227.5 202v1M1228.5 205v1M1231.5 203v1M1233.5 937v1M1234.5 198v1M1234.5 294v1M1236.5 200v1M1236.5 302v1M1241.5 197v1M1245.5 307v1M1245.5 931v1M1247.5 622v1M1249.5 302v1M1250.5 192v1M1251.5 310v1M1252.5 189v1M1253.5 188v1M1255.5 189v1M1256.5 188v1M1262.5 316v1M1264.5 310v1M1275.5 316v1M1300.5 188v52M1300.5 265v52M1316.5 471v1M1317.5 472v1M1320.5 474v1M1320.5 893v1M1323.5 476v1M1326.5 265v1M1326.5 478v1M1329.5 480v1M1332.5 482v1M1333.5 483v1M1333.5 886v1M1335.5 188v1M1336.5 485v1M1339.5 487v1M1342.5 489v1M1342.5 881v1M1345.5 491v1M1347.5 276v1M1348.5 493v1M1351.5 495v1M1352.5 279v1M1352.5 496v1M1353.5 875v1M1355.5 281v1M1355.5 498v1M1356.5 282v1M1358.5 500v1M1359.5 284v1M1360.5 285v1M1360.5 871v1M1361.5 502v1M1363.5 287v1M1364.5 288v1M1364.5 504v1M1365.5 289v1M1366.5 290v1M1367.5 291v1M1367.5 506v1M1368.5 292v1M1368.5 507v1M1369.5 293v1M1369.5 508v1M1369.5 866v1M1370.5 294v1M1370.5 509v1M1371.5 295v1M1371.5 510v3M1372.5 296v1M1372.5 513v2M1373.5 297v1M1373.5 515v3M1374.5 298v1M1374.5 518v2M1375.5 299v1M1375.5 520v3M1376.5 300v1M1376.5 523v2M1377.5 301v1M1377.5 525v3M1378.5 302v1M1378.5 528v2M1378.5 861v1M1379.5 303v1M1379.5 530v3M1380.5 304v1M1380.5 345v1M1380.5 533v2M1381.5 305v1M1381.5 344v1M1381.5 535v3M1382.5 306v2M1382.5 343v1M1382.5 538v2M1383.5 308v1M1383.5 342v1M1383.5 540v3M1384.5 309v2M1384.5 341v1M1384.5 543v2M1385.5 311v2M1385.5 340v1M1385.5 545v3M1386.5 313v2M1386.5 338v2M1386.5 548v3M1387.5 315v2M1387.5 336v2M1387.5 551v2M1387.5 856v1M1388.5 317v2M1388.5 334v2M1388.5 553v3M1389.5 319v4M1389.5 330v4M1389.5 556v2M1390.5 323v7M1390.5 558v21M1391.5 579v82M1392.5 661v8M1393.5 669v6M1394.5 675v6M1395.5 683v3M1396.5 686v5M1396.5 851v1M1397.5 691v4M1398.5 695v5M1399.5 700v4M1400.5 704v4M1401.5 708v3M1402.5 711v4M1403.5 715v3M1403.5 847v1M1404.5 718v3M1405.5 721v3M1406.5 724v4M1407.5 728v3M1408.5 731v3M1409.5 734v3M1410.5 737v3M1410.5 843v1M1411.5 740v3M1412.5 743v3M1413.5 746v3M1414.5 749v2M1415.5 751v3M1416.5 754v3M1417.5 757v2M1418.5 759v3M1419.5 762v2M1419.5 838v1M1420.5 764v3M1421.5 767v2M1422.5 769v3M1423.5 772v2M1424.5 774v2M1425.5 776v3M1426.5 779v2M1428.5 833v1M1433.5 830v1M1442.5 825v1M1449.5 821v1M1456.5 817v1M1461.5 814v1M1464.5 780v1M1465.5 239v1M1470.5 809v1M1477.5 805v1M1482.5 802v1M1489.5 798v1M1494.5 795v1M1501.5 791v1M1508.5 787v1M1513.5 784v1M1517.5 700v1M1518.5 781v1M1524.5 696v1M1525.5 777v1M1528.5 694v1M1530.5 774v1M1535.5 690v1M1537.5 770v1M1542.5 767v1M1544.5 685v1M1547.5 764v1M1551.5 681v1M1552.5 761v1M1557.5 758v1M1558.5 677v1M1560.5 756v1M1565.5 753v1M1567.5 672v1M1570.5 750v1M1574.5 668v1M1575.5 747v1M1579.5 665v1M1580.5 744v1M1583.5 742v1M1586.5 661v1M1588.5 739v1M1590.5 729v1M1591.5 231v1M1591.5 658v1M1593.5 736v1M1594.5 233v1M1597.5 235v1M1598.5 236v1M1598.5 654v1M1598.5 733v1M1601.5 238v1M1601.5 652v1M1601.5 731v1M1602.5 239v1M1603.5 240v1M1604.5 241v1M1604.5 729v1M1605.5 242v1M1606.5 243v1M1607.5 244v1M1608.5 245v1M1609.5 246v1M1610.5 247v1M1611.5 248v1M1612.5 249v1M1613.5 250v1M1614.5 251v2M1615.5 253v1M1616.5 254v2M1617.5 256v2M1618.5 258v2M1619.5 260v2M1620.5 262v3M1621.5 265v3M1622.5 268v5M1623.5 273v9M1624.5 282v344M1624.5 652v52M1642.5 652v1M1643.5 653v1M1644.5 654v1M1645.5 655v1M1646.5 656v1M1647.5 657v1M1648.5 658v1M1649.5 240v1M1651.5 660v1M1652.5 661v1M1653.5 662v1M1654.5 663v1M1655.5 664v1M1656.5 244v1M1656.5 665v1M1657.5 666v1M1658.5 667v1M1659.5 668v1M1660.5 669v1M1661.5 247v1M1661.5 670v1M1662.5 671v1M1662.5 934v1M1663.5 672v1M1664.5 673v1M1665.5 674v1M1665.5 932v1M1666.5 675v1M1666.5 931v1M1667.5 676v1M1668.5 251v1M1668.5 677v1M1669.5 678v1M1669.5 929v1M1670.5 679v1M1670.5 928v1M1671.5 680v1M1671.5 927v1M1672.5 681v1M1673.5 682v1M1674.5 683v1M1674.5 925v1M1675.5 684v1M1675.5 924v1M1676.5 685v2M1677.5 256v1M1677.5 687v1M1678.5 688v1M1678.5 922v1M1679.5 689v2M1679.5 921v1M1680.5 691v1M1680.5 920v1M1681.5 692v2M1682.5 694v2M1683.5 696v1M1683.5 918v1M1684.5 260v1M1684.5 697v2M1684.5 917v1M1685.5 699v2M1686.5 701v2M1687.5 703v2M1687.5 915v1M1688.5 705v2M1688.5 914v1M1689.5 707v1M1689.5 913v1M1690.5 708v2M1691.5 710v2M1692.5 712v2M1692.5 911v1M1693.5 714v2M1693.5 910v1M1694.5 716v2M1694.5 909v1M1695.5 718v3M1695.5 908v1M1696.5 721v1M1696.5 907v1M1697.5 722v2M1697.5 906v1M1698.5 724v3M1698.5 904v2M1699.5 727v2M1699.5 901v3M1700.5 729v2M1700.5 899v2M1701.5 731v2M1701.5 896v3M1702.5 733v2M1702.5 894v2M1703.5 735v3M1703.5 891v3M1704.5 738v2M1704.5 888v3M1705.5 740v3M1705.5 886v2M1706.5 743v3M1706.5 883v3M1707.5 746v3M1707.5 881v2M1708.5 749v4M1708.5 878v3M1709.5 753v6M1709.5 876v2M1710.5 759v9M1710.5 873v3M1711.5 768v20M1711.5 804v69M1712.5 788v16M2094.5 198v1M2101.5 202v1M2108.5 206v1M2119.5 212v1M2140.5 223v1M2147.5 227v1M2152.5 230v1M2157.5 233v1M2160.5 235v1M2163.5 237v1M2165.5 239v1M2166.5 240v1M2167.5 241v1M2168.5 242v1M2169.5 243v1M2170.5 244v1M2171.5 245v2M2172.5 247v2M2173.5 249v1M2174.5 250v2M2175.5 252v3M2176.5 255v2M2177.5 257v2M2178.5 259v3M2179.5 262v3M2180.5 265v3M2181.5 268v4M2182.5 272v4M2183.5 276v5M2184.5 281v5M2185.5 286v7M2186.5 293v11M2187.5 304v13M2225.5 309v1M2246.5 298v1M2271.5 285v1M2306.5 267v1M2309.5 265v1M2350.5 265v1M2351.5 266v1M2352.5 267v1M2353.5 268v1M2354.5 269v1M2355.5 270v1M2356.5 271v1M2359.5 273v1M2360.5 274v1M2361.5 275v1M2362.5 276v1M2363.5 277v1M2364.5 278v1M2365.5 279v1M2368.5 281v1M2369.5 282v1M2370.5 283v1M2371.5 284v1M2372.5 285v1M2373.5 286v1M2376.5 288v1M2377.5 289v1M2378.5 290v1M2379.5 291v1M2380.5 292v1M2381.5 293v1M2384.5 295v1M2385.5 296v1M2386.5 297v1M2387.5 176v1M2387.5 298v1M2388.5 299v1M2389.5 300v1M2390.5 301v1M2393.5 303v1M2394.5 180v1M2394.5 304v1M2395.5 305v1M2397.5 182v1M2398.5 307v1M2399.5 308v1M2400.5 184v1M2400.5 309v1M2401.5 310v1M2402.5 311v1M2403.5 186v1M2403.5 312v1M2404.5 187v1M2404.5 313v1M2405.5 314v1M2407.5 189v1M2408.5 190v1M2409.5 191v1M2412.5 193v1M2413.5 194v1M2414.5 195v1M2417.5 197v1M2418.5 198v1M2419.5 199v1M2420.5 200v1M2423.5 202v1M2424.5 203v1M2425.5 204v1M2426.5 205v1M2427.5 206v1M2428.5 207v1M2429.5 208v1M2430.5 209v1M2431.5 210v1M2432.5 211v1M2433.5 212v1M2434.5 213v1M2435.5 214v1M2436.5 215v1M2436.5 314v2M2437.5 216v1M2437.5 313v1M2438.5 217v1M2438.5 312v1M2439.5 218v1M2439.5 310v2M2440.5 219v1M2440.5 309v1M2441.5 220v1M2441.5 308v1M2442.5 221v1M2442.5 307v1M2443.5 222v1M2443.5 306v1M2444.5 223v1M2444.5 305v1M2445.5 224v1M2445.5 303v2M2446.5 225v1M2446.5 302v1M2447.5 226v1M2447.5 301v1M2448.5 227v1M2448.5 299v2M2449.5 228v1M2449.5 298v1M2450.5 229v1M2450.5 296v2M2451.5 230v1M2451.5 295v1M2452.5 231v1M2452.5 293v2M2453.5 232v1M2453.5 291v2M2454.5 233v1M2454.5 289v2M2455.5 234v1M2455.5 288v1M2456.5 235v1M2456.5 286v2M2457.5 236v1M2457.5 284v2M2458.5 237v2M2458.5 282v2M2459.5 239v1M2459.5 279v3M2460.5 240v2M2460.5 277v2M2461.5 242v2M2461.5 274v3M2462.5 244v3M2462.5 270v4M2463.5 247v4M2463.5 266v4M2464.5 251v15"/>
</g>
<g fill="#191970" stroke="none" shape-rendering="crispEdges">
<polygon points="882.5,84.0 889.0,70.6 896.4,78.8"/>
<polygon points="1023.0,84.0 1009.1,78.8 1016.5,70.6"/>
<polygon points="1225.0,161.4 1210.5,164.7 1212.2,153.8"/>
<polygon points="1275.5,316.2 1260.7,314.6 1265.9,304.8"/>
<polygon points="2436.1,315.4 2440.8,301.3 2449.2,308.4"/>
<polygon points="2187.8,316.1 2181.3,302.7 2192.3,301.9"/>
<polygon points="361.2,238.8 373.0,229.8 376.0,240.4"/>
<polygon points="219.3,1018.1 204.7,1020.7 206.9,1009.9"/>
<polygon points="367.2,401.8 352.8,405.4 354.3,394.5"/>
<polygon points="473.3,395.9 458.9,399.6 460.3,388.7"/>
<polygon points="384.0,239.3 397.0,232.1 398.4,243.1"/>
<polygon points="287.0,315.6 297.3,304.9 301.8,314.9"/>
<polygon points="648.0,242.0 661.2,235.1 662.3,246.1"/>
<polygon points="1015.2,238.0 1027.5,229.7 1029.8,240.5"/>
<polygon points="1262.8,316.2 1248.0,314.7 1253.1,305.0"/>
<polygon points="764.5,780.1 755.7,768.1 766.3,765.4"/>
<polygon points="1300.5,239.0 1295.0,225.2 1306.0,225.2"/>
<polygon points="1465.0,239.0 1450.1,239.3 1454.0,229.0"/>
<polygon points="1624.5,625.0 1619.0,611.2 1630.0,611.2"/>
<polygon points="1711.7,241.9 1697.2,245.3 1698.8,234.4"/>
<polygon points="1815.7,239.5 1801.4,243.5 1802.6,232.6"/>
<polygon points="2058.1,239.5 2043.6,242.9 2045.2,232.1"/>
<polygon points="2223.2,241.9 2209.1,246.6 2209.7,235.6"/>
<polygon points="2116.7,323.3 2102.4,327.4 2103.5,316.5"/>
<polygon points="240.4,1012.2 225.7,1010.0 231.2,1000.5"/>
<polygon points="305.0,316.1 317.0,307.3 319.7,318.0"/>
<polygon points="417.5,316.1 427.6,305.2 432.3,315.1"/>
<polygon points="510.3,393.5 501.5,381.5 512.2,378.8"/>
<polygon points="593.0,315.5 581.0,306.7 590.4,300.9"/>
<polygon points="662.5,315.6 674.8,307.3 677.2,318.0"/>
<polygon points="813.3,315.6 823.6,304.9 828.1,314.9"/>
<polygon points="953.5,316.0 948.0,302.2 959.0,302.2"/>
<polygon points="1077.6,315.6 1062.8,314.2 1067.8,304.4"/>
<polygon points="1240.5,316.3 1225.9,319.1 1228.0,308.3"/>
<polygon points="1300.5,316.0 1295.0,302.2 1306.0,302.2"/>
<polygon points="556.5,405.5 570.1,399.6 570.4,410.6"/>
<polygon points="2213.6,315.6 2223.3,304.3 2228.4,314.0"/>
<polygon points="2407.4,315.6 2393.4,310.6 2400.7,302.4"/>
<polygon points="444.6,395.9 457.0,387.7 459.2,398.5"/>
<polygon points="556.5,395.5 568.8,387.2 571.2,397.9"/>
<polygon points="556.5,396.0 569.4,388.7 570.9,399.6"/>
<polygon points="289.0,470.0 298.5,458.6 303.8,468.3"/>
<polygon points="405.5,471.0 400.0,457.2 411.0,457.2"/>
<polygon points="1426.6,780.7 1416.2,770.0 1426.4,765.8"/>
<polygon points="596.3,624.6 582.5,619.1 590.1,611.1"/>
<polygon points="733.8,471.1 719.0,472.5 722.1,462.0"/>
<polygon points="447.5,780.1 447.0,765.3 457.3,769.0"/>
<polygon points="737.4,547.7 740.6,533.2 749.7,539.4"/>
<polygon points="883.8,703.1 872.7,693.2 882.6,688.3"/>
<polygon points="924.0,548.2 909.2,547.7 913.6,537.6"/>
<polygon points="1071.1,548.2 1056.6,551.3 1058.4,540.4"/>
<polygon points="690.8,628.9 703.6,621.4 705.3,632.2"/>
<polygon points="769.4,780.1 767.7,765.3 778.3,768.2"/>
<polygon points="949.9,624.6 960.9,614.6 964.8,624.9"/>
<polygon points="1066.4,624.6 1072.5,611.1 1080.2,619.0"/>
<polygon points="1121.4,703.1 1122.0,688.3 1132.1,692.8"/>
<polygon points="1253.0,625.1 1238.2,623.6 1243.3,613.9"/>
<polygon points="1102.2,703.1 1090.0,694.6 1099.2,688.5"/>
<polygon points="753.8,780.1 740.2,774.1 748.0,766.4"/>
<polygon points="788.9,780.1 797.9,768.3 803.6,777.7"/>
<polygon points="1039.8,857.3 1026.0,851.8 1033.6,843.8"/>
<polygon points="828.2,780.3 840.5,772.0 842.9,782.7"/>
<polygon points="1067.3,1012.2 1071.8,998.1 1080.3,1005.1"/>
<polygon points="1452.2,703.4 1437.3,703.6 1441.3,693.3"/>
<polygon points="1513.2,702.7 1522.6,691.2 1527.9,700.8"/>
<polygon points="1624.5,703.0 1619.0,689.2 1630.0,689.2"/>
<polygon points="1085.6,1025.3 1099.2,1019.3 1099.6,1030.3"/>
<polygon points="1464.1,780.0 1475.1,770.1 1479.0,780.4"/>
<polygon points="1083.6,1012.2 1093.5,1001.1 1098.4,1011.0"/>
<polygon points="391.4,857.2 395.8,843.0 404.3,849.9"/>
<polygon points="273.0,1012.2 266.1,999.0 277.1,997.9"/>
<polygon points="447.6,856.7 460.0,848.6 462.2,859.4"/>
<polygon points="511.0,859.6 522.6,850.4 525.8,860.9"/>
<polygon points="625.8,856.7 636.2,846.1 640.6,856.1"/>
<polygon points="767.5,857.0 762.0,843.2 773.0,843.2"/>
<polygon points="611.0,945.2 624.3,938.6 625.2,949.6"/>
<polygon points="1044.5,1012.2 1031.1,1005.8 1039.1,998.3"/>
<polygon points="1005.0,857.2 990.2,859.0 993.1,848.3"/>
<polygon points="285.6,1012.2 288.7,997.7 297.9,1003.8"/>
<polygon points="513.4,935.0 498.6,934.0 503.3,924.1"/>
<polygon points="1025.4,1018.7 1010.7,1021.0 1013.2,1010.3"/>
<polygon points="322.0,1012.2 333.8,1003.2 336.8,1013.8"/>
<polygon points="1025.4,1021.1 1010.9,1024.4 1012.6,1013.6"/>
</g>
</svg></body></html>
